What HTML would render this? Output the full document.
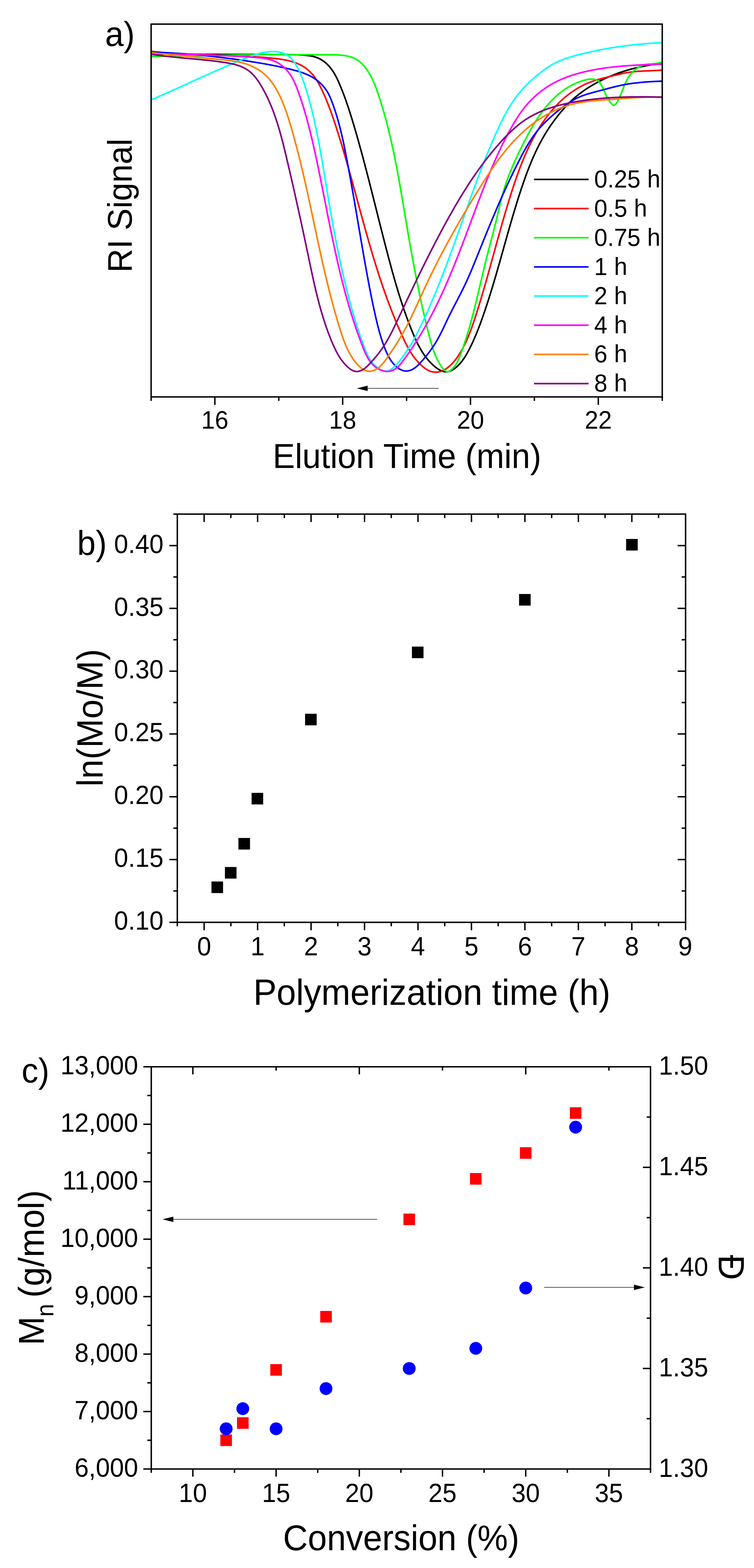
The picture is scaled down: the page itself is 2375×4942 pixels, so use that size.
<!DOCTYPE html><html><head><meta charset="utf-8"><title>Figure</title><style>html,body{margin:0;padding:0;background:#fff;}svg{display:block;}text{font-family:'Liberation Sans', Arial, Helvetica, sans-serif;fill:#000;}</style></head><body>
<svg width="2375" height="4942" viewBox="0 0 2375 4942">
<rect x="0" y="0" width="2375" height="4942" fill="#fff"/>
<g id="pa">
<clipPath id="ca"><rect x="476" y="76" width="1610" height="1175"/></clipPath>
<g clip-path="url(#ca)" fill="none" stroke-linejoin="round" stroke-linecap="round">
<path d="M476.0,170.0L479.0,170.0 482.0,170.1 485.0,170.1 488.0,170.1 491.0,170.2 494.0,170.2 497.0,170.2 500.0,170.3 503.0,170.3 506.0,170.3 509.0,170.4 512.1,170.4 515.1,170.4 518.1,170.4 521.1,170.5 524.1,170.5 527.1,170.5 530.1,170.5 533.1,170.6 536.1,170.6 539.1,170.6 542.1,170.6 545.1,170.7 548.1,170.7 551.1,170.7 554.1,170.7 557.1,170.7 560.1,170.8 563.1,170.8 566.1,170.8 569.1,170.8 572.1,170.8 575.1,170.9 578.1,170.9 581.1,170.9 584.1,170.9 587.1,170.9 590.1,171.0 593.1,171.0 596.2,171.0 599.2,171.0 602.2,171.0 605.2,171.0 608.2,171.0 611.2,171.1 614.2,171.1 617.2,171.1 620.2,171.1 623.2,171.1 626.2,171.1 629.2,171.1 632.2,171.1 635.2,171.2 638.2,171.2 641.2,171.2 644.2,171.2 647.2,171.2 650.2,171.2 653.2,171.2 656.2,171.2 659.2,171.2 662.2,171.3 665.2,171.3 668.2,171.3 671.2,171.3 674.2,171.3 677.2,171.3 680.2,171.3 683.3,171.3 686.3,171.3 689.3,171.3 692.3,171.3 695.3,171.4 698.3,171.4 701.3,171.4 704.3,171.4 707.3,171.4 710.3,171.4 713.3,171.4 716.3,171.4 719.3,171.4 722.3,171.4 725.3,171.4 728.3,171.4 731.3,171.4 734.3,171.5 737.3,171.5 740.3,171.5 743.3,171.5 746.3,171.5 749.4,171.5 752.4,171.5 755.4,171.5 758.4,171.5 761.4,171.5 764.4,171.5 767.4,171.5 770.4,171.5 773.4,171.6 776.4,171.6 779.4,171.6 782.4,171.6 785.4,171.6 788.4,171.6 791.4,171.6 794.4,171.6 797.4,171.6 800.5,171.6 803.5,171.6 806.5,171.7 809.5,171.7 812.5,171.7 815.5,171.7 818.5,171.7 821.5,171.7 824.5,171.7 827.5,171.7 830.5,171.7 833.5,171.7 836.5,171.8 839.5,171.8 842.5,171.8 845.5,171.8 848.5,171.8 851.5,171.8 854.5,171.8 857.5,171.9 860.5,171.9 863.5,171.9 866.5,171.9 869.5,171.9 872.5,171.9 875.5,171.9 878.5,172.0 881.5,172.0 884.5,172.0 887.5,172.0 890.5,172.0 893.5,172.0 896.5,172.1 899.5,172.1 902.5,172.1 905.5,172.1 908.5,172.1 911.5,172.2 914.5,172.2 917.5,172.2 920.5,172.3 923.5,172.3 926.5,172.4 929.5,172.5 932.5,172.5 935.5,172.6 938.5,172.7 941.5,172.9 944.5,173.0 947.5,173.2 950.5,173.3 953.5,173.5 956.5,173.8 959.5,174.0 962.6,174.2 965.6,174.5 968.6,174.9 971.6,175.2 974.6,175.6 977.6,176.1 980.6,176.6 983.5,177.2 986.4,177.9 989.4,178.6 992.2,179.4 995.1,180.3 997.9,181.3 1000.7,182.4 1003.4,183.6 1006.1,184.9 1008.8,186.3 1011.4,187.8 1014.0,189.4 1016.5,191.1 1019.0,192.8 1021.4,194.6 1023.8,196.5 1026.1,198.4 1028.3,200.4 1030.5,202.4 1032.6,204.5 1034.6,206.7 1036.6,208.9 1038.6,211.1 1040.5,213.4 1042.3,215.7 1044.1,218.1 1045.8,220.5 1047.5,222.9 1049.2,225.4 1050.8,227.9 1052.3,230.5 1053.9,233.0 1055.3,235.6 1056.8,238.3 1058.2,240.9 1059.6,243.6 1060.9,246.3 1062.3,249.0 1063.6,251.7 1064.8,254.5 1066.1,257.2 1067.3,260.0 1068.5,262.8 1069.7,265.6 1070.9,268.4 1072.1,271.2 1073.2,274.0 1074.4,276.8 1075.5,279.6 1076.6,282.4 1077.8,285.2 1078.9,288.0 1080.0,290.8 1081.0,293.6 1082.1,296.5 1083.2,299.3 1084.2,302.1 1085.3,304.9 1086.3,307.8 1087.3,310.6 1088.4,313.4 1089.4,316.3 1090.4,319.1 1091.4,321.9 1092.3,324.8 1093.3,327.6 1094.3,330.5 1095.3,333.3 1096.2,336.1 1097.2,339.0 1098.1,341.8 1099.0,344.7 1100.0,347.6 1100.9,350.4 1101.8,353.3 1102.7,356.1 1103.6,359.0 1104.5,361.8 1105.4,364.7 1106.3,367.6 1107.2,370.4 1108.1,373.3 1109.0,376.2 1109.8,379.0 1110.7,381.9 1111.6,384.8 1112.4,387.6 1113.3,390.5 1114.2,393.4 1115.0,396.3 1115.9,399.1 1116.7,402.0 1117.5,404.9 1118.4,407.8 1119.2,410.6 1120.1,413.5 1120.9,416.4 1121.7,419.3 1122.6,422.2 1123.4,425.1 1124.2,427.9 1125.0,430.8 1125.9,433.7 1126.7,436.6 1127.5,439.5 1128.3,442.4 1129.1,445.2 1129.9,448.1 1130.7,451.0 1131.5,453.9 1132.3,456.8 1133.1,459.7 1133.9,462.6 1134.7,465.5 1135.5,468.4 1136.3,471.3 1137.1,474.2 1137.9,477.0 1138.7,479.9 1139.5,482.8 1140.3,485.7 1141.0,488.6 1141.8,491.5 1142.6,494.4 1143.4,497.3 1144.2,500.2 1144.9,503.1 1145.7,506.0 1146.5,508.9 1147.2,511.8 1148.0,514.7 1148.8,517.6 1149.5,520.5 1150.3,523.4 1151.1,526.3 1151.8,529.2 1152.6,532.1 1153.4,535.0 1154.1,538.0 1154.9,540.9 1155.6,543.8 1156.4,546.7 1157.1,549.6 1157.9,552.5 1158.6,555.4 1159.4,558.3 1160.1,561.2 1160.9,564.1 1161.6,567.0 1162.4,569.9 1163.1,572.8 1163.9,575.7 1164.6,578.7 1165.3,581.6 1166.1,584.5 1166.8,587.4 1167.6,590.3 1168.3,593.2 1169.0,596.1 1169.8,599.0 1170.5,601.9 1171.3,604.9 1172.0,607.8 1172.7,610.7 1173.5,613.6 1174.2,616.5 1174.9,619.4 1175.7,622.3 1176.4,625.3 1177.1,628.2 1177.9,631.1 1178.6,634.0 1179.3,636.9 1180.1,639.8 1180.8,642.7 1181.5,645.7 1182.3,648.6 1183.0,651.5 1183.7,654.4 1184.5,657.3 1185.2,660.2 1185.9,663.1 1186.7,666.1 1187.4,669.0 1188.1,671.9 1188.8,674.8 1189.6,677.7 1190.3,680.6 1191.0,683.6 1191.8,686.5 1192.5,689.4 1193.2,692.3 1194.0,695.2 1194.7,698.1 1195.4,701.0 1196.2,704.0 1196.9,706.9 1197.6,709.8 1198.4,712.7 1199.1,715.6 1199.8,718.5 1200.6,721.4 1201.3,724.4 1202.1,727.3 1202.8,730.2 1203.5,733.1 1204.3,736.0 1205.0,738.9 1205.8,741.8 1206.5,744.8 1207.2,747.7 1208.0,750.6 1208.7,753.5 1209.5,756.4 1210.2,759.3 1211.0,762.2 1211.7,765.2 1212.5,768.1 1213.2,771.0 1214.0,773.9 1214.7,776.8 1215.5,779.7 1216.2,782.6 1217.0,785.5 1217.8,788.4 1218.5,791.4 1219.3,794.3 1220.0,797.2 1220.8,800.1 1221.6,803.0 1222.3,805.9 1223.1,808.8 1223.9,811.7 1224.6,814.6 1225.4,817.5 1226.2,820.4 1227.0,823.3 1227.7,826.2 1228.5,829.1 1229.3,832.0 1230.1,835.0 1230.9,837.9 1231.6,840.8 1232.4,843.7 1233.2,846.6 1234.0,849.5 1234.8,852.4 1235.6,855.3 1236.4,858.1 1237.2,861.0 1238.0,863.9 1238.9,866.8 1239.7,869.7 1240.5,872.6 1241.3,875.5 1242.1,878.4 1243.0,881.3 1243.8,884.2 1244.6,887.1 1245.5,889.9 1246.3,892.8 1247.1,895.7 1248.0,898.6 1248.8,901.5 1249.7,904.4 1250.6,907.2 1251.4,910.1 1252.3,913.0 1253.2,915.9 1254.0,918.7 1254.9,921.6 1255.8,924.5 1256.7,927.3 1257.6,930.2 1258.5,933.1 1259.4,935.9 1260.3,938.8 1261.2,941.7 1262.1,944.5 1263.0,947.4 1264.0,950.2 1264.9,953.1 1265.8,955.9 1266.8,958.8 1267.7,961.6 1268.7,964.5 1269.6,967.3 1270.6,970.1 1271.6,973.0 1272.5,975.8 1273.5,978.7 1274.5,981.5 1275.5,984.3 1276.5,987.2 1277.5,990.0 1278.5,992.8 1279.5,995.6 1280.5,998.4 1281.6,1001.3 1282.6,1004.1 1283.6,1006.9 1284.7,1009.7 1285.7,1012.5 1286.8,1015.3 1287.9,1018.1 1288.9,1020.9 1290.0,1023.7 1291.1,1026.5 1292.2,1029.3 1293.3,1032.1 1294.4,1034.9 1295.5,1037.7 1296.6,1040.5 1297.8,1043.2 1298.9,1046.0 1300.1,1048.8 1301.2,1051.6 1302.4,1054.3 1303.5,1057.1 1304.7,1059.9 1305.9,1062.6 1307.1,1065.4 1308.4,1068.1 1309.6,1070.8 1310.9,1073.5 1312.1,1076.3 1313.4,1079.0 1314.8,1081.6 1316.1,1084.3 1317.4,1087.0 1318.8,1089.7 1320.2,1092.3 1321.7,1094.9 1323.1,1097.5 1324.6,1100.1 1326.1,1102.7 1327.6,1105.3 1329.2,1107.9 1330.8,1110.4 1332.4,1112.9 1334.1,1115.4 1335.8,1117.9 1337.5,1120.3 1339.3,1122.8 1341.1,1125.2 1342.9,1127.6 1344.8,1130.0 1346.7,1132.3 1348.7,1134.7 1350.7,1137.0 1352.7,1139.3 1354.8,1141.5 1357.0,1143.7 1359.2,1145.9 1361.4,1148.1 1363.7,1150.3 1366.0,1152.4 1368.3,1154.4 1370.8,1156.5 1373.2,1158.4 1375.7,1160.3 1378.2,1162.0 1380.8,1163.7 1383.3,1165.2 1385.9,1166.7 1388.6,1167.9 1391.2,1169.1 1393.9,1170.0 1396.5,1170.8 1399.2,1171.4 1401.9,1171.8 1404.6,1171.9 1407.3,1171.9 1410.0,1171.6 1412.7,1171.0 1415.4,1170.3 1418.1,1169.4 1420.8,1168.2 1423.4,1166.9 1426.0,1165.5 1428.6,1163.9 1431.1,1162.1 1433.6,1160.3 1436.0,1158.4 1438.4,1156.3 1440.7,1154.2 1443.0,1152.0 1445.2,1149.8 1447.3,1147.6 1449.4,1145.3 1451.4,1143.0 1453.3,1140.6 1455.2,1138.2 1457.1,1135.8 1458.9,1133.3 1460.6,1130.8 1462.3,1128.3 1463.9,1125.8 1465.6,1123.2 1467.1,1120.7 1468.7,1118.1 1470.2,1115.4 1471.7,1112.8 1473.1,1110.2 1474.6,1107.5 1476.0,1104.9 1477.4,1102.2 1478.8,1099.5 1480.1,1096.8 1481.5,1094.1 1482.8,1091.4 1484.1,1088.7 1485.4,1086.0 1486.7,1083.3 1488.0,1080.6 1489.2,1077.8 1490.5,1075.1 1491.7,1072.4 1492.9,1069.6 1494.1,1066.9 1495.3,1064.1 1496.5,1061.4 1497.7,1058.6 1498.9,1055.8 1500.0,1053.1 1501.1,1050.3 1502.3,1047.5 1503.4,1044.7 1504.5,1041.9 1505.6,1039.1 1506.7,1036.3 1507.8,1033.6 1508.8,1030.7 1509.9,1027.9 1511.0,1025.1 1512.0,1022.3 1513.1,1019.5 1514.1,1016.7 1515.1,1013.9 1516.1,1011.1 1517.2,1008.2 1518.2,1005.4 1519.2,1002.6 1520.2,999.8 1521.2,996.9 1522.1,994.1 1523.1,991.3 1524.1,988.4 1525.1,985.6 1526.1,982.7 1527.0,979.9 1528.0,977.1 1528.9,974.2 1529.9,971.4 1530.8,968.5 1531.8,965.7 1532.7,962.8 1533.7,960.0 1534.6,957.1 1535.5,954.3 1536.4,951.4 1537.4,948.6 1538.3,945.7 1539.2,942.9 1540.1,940.0 1541.0,937.2 1541.9,934.3 1542.8,931.4 1543.7,928.6 1544.6,925.7 1545.5,922.8 1546.4,920.0 1547.3,917.1 1548.1,914.3 1549.0,911.4 1549.9,908.5 1550.8,905.6 1551.6,902.8 1552.5,899.9 1553.4,897.0 1554.2,894.2 1555.1,891.3 1555.9,888.4 1556.8,885.5 1557.6,882.6 1558.5,879.8 1559.3,876.9 1560.2,874.0 1561.0,871.1 1561.9,868.3 1562.7,865.4 1563.5,862.5 1564.4,859.6 1565.2,856.7 1566.0,853.8 1566.9,851.0 1567.7,848.1 1568.5,845.2 1569.4,842.3 1570.2,839.4 1571.0,836.5 1571.8,833.6 1572.7,830.7 1573.5,827.9 1574.3,825.0 1575.1,822.1 1575.9,819.2 1576.7,816.3 1577.6,813.4 1578.4,810.5 1579.2,807.6 1580.0,804.7 1580.8,801.8 1581.6,799.0 1582.4,796.1 1583.3,793.2 1584.1,790.3 1584.9,787.4 1585.7,784.5 1586.5,781.6 1587.3,778.7 1588.1,775.8 1588.9,772.9 1589.8,770.0 1590.6,767.1 1591.4,764.2 1592.2,761.3 1593.0,758.5 1593.8,755.6 1594.6,752.7 1595.5,749.8 1596.3,746.9 1597.1,744.0 1597.9,741.1 1598.7,738.2 1599.6,735.3 1600.4,732.4 1601.2,729.5 1602.0,726.6 1602.8,723.8 1603.7,720.9 1604.5,718.0 1605.3,715.1 1606.2,712.2 1607.0,709.3 1607.8,706.4 1608.7,703.5 1609.5,700.6 1610.3,697.7 1611.2,694.9 1612.0,692.0 1612.9,689.1 1613.7,686.2 1614.6,683.3 1615.4,680.4 1616.3,677.5 1617.1,674.7 1618.0,671.8 1618.9,668.9 1619.7,666.0 1620.6,663.1 1621.5,660.3 1622.3,657.4 1623.2,654.5 1624.1,651.6 1625.0,648.7 1625.8,645.9 1626.7,643.0 1627.6,640.1 1628.5,637.2 1629.4,634.4 1630.3,631.5 1631.2,628.6 1632.1,625.8 1633.0,622.9 1633.9,620.0 1634.9,617.2 1635.8,614.3 1636.7,611.4 1637.6,608.6 1638.6,605.7 1639.5,602.8 1640.4,600.0 1641.4,597.1 1642.3,594.3 1643.3,591.4 1644.3,588.5 1645.2,585.7 1646.2,582.8 1647.2,580.0 1648.1,577.1 1649.1,574.3 1650.1,571.4 1651.1,568.6 1652.1,565.8 1653.1,562.9 1654.1,560.1 1655.1,557.3 1656.2,554.4 1657.2,551.6 1658.2,548.8 1659.3,546.0 1660.3,543.1 1661.4,540.3 1662.5,537.5 1663.6,534.7 1664.6,531.9 1665.7,529.1 1666.8,526.3 1667.9,523.5 1669.1,520.7 1670.2,517.9 1671.3,515.1 1672.5,512.4 1673.6,509.6 1674.8,506.8 1676.0,504.1 1677.1,501.3 1678.3,498.6 1679.5,495.8 1680.7,493.1 1682.0,490.3 1683.2,487.6 1684.4,484.9 1685.7,482.1 1686.9,479.4 1688.2,476.7 1689.5,474.0 1690.8,471.3 1692.1,468.6 1693.4,465.9 1694.8,463.2 1696.1,460.6 1697.5,457.9 1698.8,455.2 1700.2,452.6 1701.6,449.9 1703.0,447.3 1704.4,444.7 1705.9,442.0 1707.3,439.4 1708.8,436.8 1710.3,434.2 1711.7,431.6 1713.2,429.0 1714.8,426.4 1716.3,423.8 1717.8,421.3 1719.4,418.7 1721.0,416.2 1722.6,413.6 1724.2,411.1 1725.8,408.5 1727.4,406.0 1729.1,403.5 1730.7,401.0 1732.4,398.5 1734.1,396.0 1735.8,393.6 1737.5,391.1 1739.3,388.6 1741.0,386.2 1742.8,383.8 1744.5,381.3 1746.3,378.9 1748.1,376.5 1749.9,374.1 1751.8,371.7 1753.6,369.3 1755.4,367.0 1757.3,364.6 1759.2,362.2 1761.1,359.9 1763.0,357.6 1764.9,355.3 1766.8,352.9 1768.7,350.6 1770.6,348.4 1772.6,346.1 1774.6,343.8 1776.5,341.6 1778.5,339.3 1780.6,337.1 1782.6,334.9 1784.6,332.7 1786.7,330.6 1788.8,328.4 1790.8,326.3 1793.0,324.1 1795.1,322.0 1797.2,320.0 1799.4,317.9 1801.6,315.8 1803.8,313.8 1806.0,311.8 1808.3,309.8 1810.5,307.9 1812.8,305.9 1815.1,304.0 1817.4,302.1 1819.7,300.2 1822.1,298.3 1824.5,296.4 1826.9,294.6 1829.3,292.8 1831.7,291.0 1834.1,289.2 1836.5,287.5 1839.0,285.7 1841.5,284.0 1844.0,282.3 1846.5,280.6 1849.0,279.0 1851.5,277.3 1854.1,275.7 1856.6,274.1 1859.2,272.5 1861.8,271.0 1864.4,269.4 1866.9,267.9 1869.6,266.4 1872.2,264.9 1874.8,263.4 1877.4,261.9 1880.1,260.5 1882.7,259.1 1885.4,257.7 1888.1,256.3 1890.7,254.9 1893.4,253.6 1896.1,252.2 1898.8,250.9 1901.5,249.6 1904.2,248.3 1907.0,247.1 1909.7,245.8 1912.4,244.6 1915.2,243.4 1917.9,242.2 1920.7,241.0 1923.4,239.9 1926.2,238.7 1929.0,237.6 1931.8,236.5 1934.6,235.4 1937.3,234.3 1940.1,233.3 1943.0,232.2 1945.8,231.2 1948.6,230.2 1951.4,229.2 1954.2,228.2 1957.1,227.3 1959.9,226.3 1962.8,225.4 1965.6,224.5 1968.5,223.6 1971.3,222.7 1974.2,221.8 1977.1,221.0 1979.9,220.1 1982.8,219.3 1985.7,218.5 1988.6,217.7 1991.5,216.9 1994.4,216.2 1997.3,215.4 2000.2,214.7 2003.1,214.0 2006.0,213.3 2009.0,212.6 2011.9,211.9 2014.8,211.2 2017.8,210.6 2020.7,210.0 2023.6,209.3 2026.6,208.7 2029.5,208.1 2032.5,207.6 2035.4,207.0 2038.4,206.5 2041.4,205.9 2044.3,205.4 2047.3,204.9 2050.3,204.4 2053.2,203.9 2056.2,203.4 2059.2,203.0 2062.2,202.6 2065.2,202.1 2068.1,201.7 2071.1,201.3 2074.1,200.9 2077.1,200.5 2080.1,200.2 2083.1,199.8 2086.0,199.2" stroke="#000000" stroke-width="5"/>
<path d="M476.0,162.0L479.0,162.3 482.0,162.6 485.0,162.9 488.0,163.3 491.1,163.6 494.1,163.8 497.1,164.1 500.2,164.4 503.2,164.7 506.2,165.0 509.2,165.2 512.2,165.5 515.2,165.7 518.3,166.0 521.3,166.2 524.3,166.4 527.3,166.6 530.3,166.9 533.3,167.1 536.3,167.3 539.3,167.5 542.3,167.7 545.3,167.9 548.3,168.1 551.3,168.3 554.3,168.4 557.3,168.6 560.3,168.8 563.3,168.9 566.3,169.1 569.3,169.3 572.3,169.4 575.3,169.6 578.3,169.7 581.3,169.9 584.3,170.0 587.3,170.1 590.3,170.3 593.3,170.4 596.3,170.5 599.2,170.6 602.2,170.8 605.2,170.9 608.2,171.0 611.2,171.1 614.2,171.2 617.2,171.3 620.2,171.4 623.1,171.6 626.1,171.7 629.1,171.8 632.1,171.9 635.1,172.0 638.1,172.1 641.0,172.2 644.0,172.3 647.0,172.3 650.0,172.4 653.0,172.5 655.9,172.6 658.9,172.7 661.9,172.8 664.9,172.9 667.9,173.0 670.9,173.1 673.8,173.2 676.8,173.3 679.8,173.4 682.8,173.4 685.8,173.5 688.7,173.6 691.7,173.7 694.7,173.8 697.7,173.9 700.7,174.0 703.7,174.1 706.6,174.2 709.6,174.3 712.6,174.4 715.6,174.5 718.6,174.6 721.6,174.7 724.6,174.8 727.6,174.9 730.5,175.1 733.5,175.2 736.5,175.3 739.5,175.4 742.5,175.5 745.5,175.7 748.5,175.8 751.5,175.9 754.5,176.1 757.5,176.2 760.5,176.3 763.5,176.5 766.5,176.6 769.5,176.8 772.5,176.9 775.5,177.1 778.5,177.3 781.5,177.4 784.5,177.6 787.5,177.8 790.5,178.0 793.5,178.2 796.5,178.3 799.5,178.5 802.5,178.7 805.5,179.0 808.5,179.2 811.5,179.4 814.6,179.6 817.6,179.8 820.6,180.1 823.6,180.3 826.6,180.6 829.7,180.8 832.7,181.1 835.7,181.3 838.7,181.6 841.8,181.9 844.8,182.2 847.8,182.4 850.9,182.7 853.9,183.0 856.9,183.4 860.0,183.7 863.0,184.0 866.1,184.3 869.1,184.7 872.1,185.1 875.2,185.4 878.2,185.8 881.2,186.2 884.2,186.7 887.2,187.1 890.2,187.6 893.2,188.1 896.2,188.7 899.2,189.2 902.1,189.8 905.1,190.4 908.0,191.1 910.9,191.8 913.8,192.5 916.7,193.3 919.6,194.1 922.4,195.0 925.2,195.9 928.0,196.8 930.8,197.8 933.5,198.9 936.3,200.0 939.0,201.1 941.6,202.3 944.3,203.6 946.9,204.9 949.5,206.2 952.0,207.7 954.6,209.2 957.1,210.7 959.5,212.4 961.9,214.1 964.3,215.8 966.7,217.6 969.0,219.5 971.3,221.5 973.5,223.5 975.7,225.6 977.8,227.7 979.9,229.9 982.0,232.1 984.0,234.4 985.9,236.7 987.9,239.1 989.7,241.5 991.5,243.9 993.3,246.4 995.0,248.9 996.7,251.4 998.3,253.9 999.9,256.5 1001.4,259.1 1002.9,261.7 1004.4,264.3 1005.8,267.0 1007.2,269.6 1008.6,272.3 1009.9,275.0 1011.3,277.7 1012.6,280.4 1013.9,283.1 1015.2,285.9 1016.4,288.6 1017.7,291.3 1018.9,294.0 1020.2,296.8 1021.4,299.5 1022.6,302.3 1023.8,305.0 1025.0,307.8 1026.1,310.6 1027.3,313.3 1028.4,316.1 1029.6,318.9 1030.7,321.7 1031.8,324.5 1032.9,327.3 1034.0,330.0 1035.1,332.8 1036.2,335.6 1037.2,338.5 1038.3,341.3 1039.3,344.1 1040.4,346.9 1041.4,349.7 1042.4,352.5 1043.4,355.4 1044.5,358.2 1045.5,361.0 1046.4,363.8 1047.4,366.7 1048.4,369.5 1049.4,372.4 1050.4,375.2 1051.3,378.0 1052.3,380.9 1053.2,383.7 1054.2,386.6 1055.1,389.4 1056.1,392.3 1057.0,395.1 1057.9,398.0 1058.9,400.9 1059.8,403.7 1060.7,406.6 1061.6,409.4 1062.5,412.3 1063.4,415.1 1064.3,418.0 1065.3,420.9 1066.2,423.7 1067.0,426.6 1067.9,429.5 1068.8,432.3 1069.7,435.2 1070.6,438.1 1071.5,440.9 1072.4,443.8 1073.3,446.7 1074.1,449.6 1075.0,452.4 1075.9,455.3 1076.7,458.2 1077.6,461.1 1078.5,463.9 1079.3,466.8 1080.2,469.7 1081.0,472.6 1081.9,475.5 1082.7,478.3 1083.6,481.2 1084.4,484.1 1085.3,487.0 1086.1,489.9 1087.0,492.8 1087.8,495.6 1088.6,498.5 1089.5,501.4 1090.3,504.3 1091.1,507.2 1092.0,510.1 1092.8,513.0 1093.6,515.9 1094.4,518.7 1095.3,521.6 1096.1,524.5 1096.9,527.4 1097.7,530.3 1098.5,533.2 1099.3,536.1 1100.2,539.0 1101.0,541.9 1101.8,544.8 1102.6,547.7 1103.4,550.6 1104.2,553.5 1105.0,556.4 1105.8,559.2 1106.6,562.1 1107.4,565.0 1108.2,567.9 1109.0,570.8 1109.8,573.7 1110.6,576.6 1111.4,579.5 1112.2,582.4 1113.0,585.3 1113.8,588.2 1114.6,591.1 1115.4,594.0 1116.2,596.9 1117.0,599.8 1117.8,602.7 1118.5,605.6 1119.3,608.5 1120.1,611.4 1120.9,614.3 1121.7,617.2 1122.5,620.1 1123.3,623.0 1124.1,625.9 1124.9,628.8 1125.6,631.7 1126.4,634.6 1127.2,637.5 1128.0,640.4 1128.8,643.3 1129.6,646.2 1130.4,649.1 1131.2,652.0 1132.0,654.9 1132.8,657.8 1133.5,660.7 1134.3,663.6 1135.1,666.5 1135.9,669.4 1136.7,672.3 1137.5,675.2 1138.3,678.1 1139.1,681.0 1139.9,683.9 1140.7,686.8 1141.5,689.7 1142.3,692.6 1143.1,695.5 1143.9,698.4 1144.7,701.3 1145.5,704.2 1146.3,707.1 1147.1,710.0 1147.9,712.9 1148.7,715.8 1149.5,718.7 1150.3,721.6 1151.1,724.5 1151.9,727.4 1152.7,730.3 1153.5,733.1 1154.4,736.0 1155.2,738.9 1156.0,741.8 1156.8,744.7 1157.6,747.6 1158.5,750.5 1159.3,753.4 1160.1,756.3 1160.9,759.2 1161.8,762.0 1162.6,764.9 1163.4,767.8 1164.3,770.7 1165.1,773.6 1165.9,776.5 1166.8,779.4 1167.6,782.2 1168.5,785.1 1169.3,788.0 1170.2,790.9 1171.0,793.8 1171.9,796.6 1172.7,799.5 1173.6,802.4 1174.4,805.3 1175.3,808.1 1176.2,811.0 1177.0,813.9 1177.9,816.8 1178.8,819.6 1179.7,822.5 1180.5,825.4 1181.4,828.2 1182.3,831.1 1183.2,834.0 1184.1,836.8 1185.0,839.7 1185.9,842.6 1186.8,845.4 1187.7,848.3 1188.6,851.2 1189.5,854.0 1190.4,856.9 1191.3,859.7 1192.2,862.6 1193.2,865.5 1194.1,868.3 1195.0,871.2 1195.9,874.0 1196.9,876.9 1197.8,879.7 1198.8,882.6 1199.7,885.4 1200.7,888.3 1201.6,891.1 1202.6,894.0 1203.5,896.8 1204.5,899.6 1205.5,902.5 1206.4,905.3 1207.4,908.2 1208.4,911.0 1209.4,913.8 1210.4,916.7 1211.4,919.5 1212.4,922.3 1213.4,925.2 1214.4,928.0 1215.4,930.8 1216.4,933.6 1217.4,936.5 1218.4,939.3 1219.4,942.1 1220.5,944.9 1221.5,947.7 1222.6,950.6 1223.6,953.4 1224.6,956.2 1225.7,959.0 1226.8,961.8 1227.8,964.6 1228.9,967.4 1230.0,970.2 1231.0,973.0 1232.1,975.8 1233.2,978.6 1234.3,981.4 1235.4,984.2 1236.5,987.0 1237.6,989.8 1238.7,992.6 1239.9,995.4 1241.0,998.2 1242.1,1001.0 1243.2,1003.8 1244.4,1006.6 1245.5,1009.3 1246.7,1012.1 1247.8,1014.9 1249.0,1017.7 1250.2,1020.5 1251.3,1023.2 1252.5,1026.0 1253.7,1028.8 1254.9,1031.5 1256.1,1034.3 1257.3,1037.1 1258.5,1039.8 1259.7,1042.6 1260.9,1045.3 1262.2,1048.1 1263.4,1050.8 1264.6,1053.6 1265.9,1056.3 1267.1,1059.1 1268.4,1061.8 1269.7,1064.6 1270.9,1067.3 1272.2,1070.0 1273.5,1072.8 1274.8,1075.5 1276.1,1078.2 1277.5,1080.9 1278.8,1083.6 1280.2,1086.3 1281.6,1089.0 1283.0,1091.6 1284.4,1094.3 1285.8,1096.9 1287.3,1099.5 1288.8,1102.1 1290.3,1104.7 1291.8,1107.3 1293.4,1109.8 1295.0,1112.3 1296.6,1114.8 1298.2,1117.3 1299.9,1119.8 1301.6,1122.2 1303.3,1124.6 1305.1,1127.0 1306.9,1129.4 1308.7,1131.7 1310.6,1134.0 1312.5,1136.3 1314.5,1138.6 1316.5,1140.8 1318.5,1143.0 1320.6,1145.1 1322.7,1147.2 1324.9,1149.3 1327.1,1151.4 1329.3,1153.4 1331.6,1155.4 1334.0,1157.3 1336.4,1159.2 1338.8,1161.0 1341.3,1162.8 1343.9,1164.4 1346.5,1165.9 1349.2,1167.4 1351.9,1168.6 1354.7,1169.8 1357.6,1170.8 1360.5,1171.6 1363.5,1172.2 1366.5,1172.7 1369.6,1173.0 1372.6,1173.1 1375.7,1173.0 1378.7,1172.7 1381.6,1172.3 1384.5,1171.7 1387.4,1170.9 1390.2,1170.0 1392.9,1168.9 1395.6,1167.7 1398.3,1166.4 1400.9,1165.0 1403.4,1163.4 1405.9,1161.8 1408.4,1160.1 1410.8,1158.3 1413.1,1156.4 1415.4,1154.4 1417.7,1152.5 1419.9,1150.4 1422.0,1148.3 1424.1,1146.1 1426.2,1143.9 1428.2,1141.6 1430.1,1139.3 1432.1,1137.0 1434.0,1134.6 1435.8,1132.2 1437.6,1129.7 1439.4,1127.3 1441.1,1124.8 1442.8,1122.3 1444.5,1119.7 1446.2,1117.2 1447.8,1114.6 1449.4,1112.0 1450.9,1109.5 1452.5,1106.9 1454.0,1104.3 1455.5,1101.6 1456.9,1099.0 1458.4,1096.4 1459.8,1093.7 1461.1,1091.0 1462.5,1088.4 1463.8,1085.7 1465.2,1083.0 1466.5,1080.3 1467.7,1077.6 1469.0,1074.8 1470.2,1072.1 1471.4,1069.4 1472.6,1066.6 1473.8,1063.9 1474.9,1061.1 1476.1,1058.3 1477.2,1055.6 1478.3,1052.8 1479.4,1050.0 1480.5,1047.2 1481.6,1044.4 1482.6,1041.6 1483.7,1038.8 1484.7,1035.9 1485.7,1033.1 1486.7,1030.3 1487.7,1027.5 1488.7,1024.6 1489.7,1021.8 1490.6,1018.9 1491.6,1016.1 1492.6,1013.2 1493.5,1010.4 1494.4,1007.5 1495.4,1004.7 1496.3,1001.8 1497.2,999.0 1498.2,996.1 1499.1,993.3 1500.0,990.4 1500.9,987.5 1501.8,984.7 1502.7,981.8 1503.6,978.9 1504.5,976.1 1505.4,973.2 1506.3,970.4 1507.2,967.5 1508.1,964.6 1509.0,961.7 1509.8,958.9 1510.7,956.0 1511.6,953.1 1512.5,950.3 1513.3,947.4 1514.2,944.5 1515.1,941.6 1515.9,938.8 1516.8,935.9 1517.6,933.0 1518.5,930.1 1519.3,927.3 1520.2,924.4 1521.0,921.5 1521.9,918.6 1522.7,915.7 1523.5,912.8 1524.4,910.0 1525.2,907.1 1526.0,904.2 1526.9,901.3 1527.7,898.4 1528.5,895.5 1529.3,892.7 1530.2,889.8 1531.0,886.9 1531.8,884.0 1532.6,881.1 1533.4,878.2 1534.3,875.3 1535.1,872.4 1535.9,869.6 1536.7,866.7 1537.5,863.8 1538.3,860.9 1539.1,858.0 1539.9,855.1 1540.7,852.2 1541.5,849.3 1542.3,846.4 1543.1,843.5 1543.9,840.6 1544.7,837.8 1545.5,834.9 1546.3,832.0 1547.1,829.1 1547.9,826.2 1548.7,823.3 1549.5,820.4 1550.3,817.5 1551.1,814.6 1551.9,811.7 1552.7,808.8 1553.5,805.9 1554.3,803.0 1555.1,800.1 1555.9,797.2 1556.7,794.3 1557.5,791.4 1558.3,788.5 1559.1,785.7 1559.9,782.8 1560.6,779.9 1561.4,777.0 1562.2,774.1 1563.0,771.2 1563.8,768.3 1564.6,765.4 1565.4,762.5 1566.2,759.6 1567.0,756.7 1567.8,753.8 1568.6,750.9 1569.4,748.0 1570.2,745.1 1571.0,742.2 1571.8,739.3 1572.7,736.4 1573.5,733.6 1574.3,730.7 1575.1,727.8 1575.9,724.9 1576.7,722.0 1577.5,719.1 1578.3,716.2 1579.2,713.3 1580.0,710.4 1580.8,707.5 1581.6,704.6 1582.4,701.8 1583.3,698.9 1584.1,696.0 1584.9,693.1 1585.8,690.2 1586.6,687.3 1587.4,684.4 1588.3,681.5 1589.1,678.7 1590.0,675.8 1590.8,672.9 1591.6,670.0 1592.5,667.1 1593.3,664.2 1594.2,661.4 1595.1,658.5 1595.9,655.6 1596.8,652.7 1597.6,649.8 1598.5,647.0 1599.4,644.1 1600.3,641.2 1601.1,638.3 1602.0,635.4 1602.9,632.6 1603.8,629.7 1604.7,626.8 1605.6,623.9 1606.5,621.1 1607.4,618.2 1608.3,615.3 1609.2,612.5 1610.1,609.6 1611.0,606.7 1611.9,603.9 1612.8,601.0 1613.8,598.1 1614.7,595.3 1615.6,592.4 1616.5,589.5 1617.5,586.7 1618.4,583.8 1619.4,581.0 1620.3,578.1 1621.3,575.2 1622.3,572.4 1623.2,569.5 1624.2,566.7 1625.2,563.8 1626.2,561.0 1627.2,558.2 1628.2,555.3 1629.2,552.5 1630.2,549.6 1631.2,546.8 1632.2,544.0 1633.2,541.2 1634.3,538.3 1635.3,535.5 1636.4,532.7 1637.4,529.9 1638.5,527.1 1639.6,524.2 1640.7,521.4 1641.8,518.6 1642.9,515.8 1644.0,513.0 1645.1,510.3 1646.2,507.5 1647.3,504.7 1648.5,501.9 1649.6,499.1 1650.8,496.4 1652.0,493.6 1653.2,490.8 1654.3,488.1 1655.5,485.3 1656.8,482.6 1658.0,479.8 1659.2,477.1 1660.5,474.4 1661.7,471.6 1663.0,468.9 1664.3,466.2 1665.5,463.5 1666.8,460.8 1668.1,458.1 1669.5,455.4 1670.8,452.7 1672.2,450.0 1673.5,447.3 1674.9,444.7 1676.3,442.0 1677.7,439.3 1679.1,436.7 1680.5,434.0 1681.9,431.4 1683.4,428.8 1684.8,426.1 1686.3,423.5 1687.8,420.9 1689.3,418.3 1690.8,415.7 1692.4,413.1 1693.9,410.5 1695.5,408.0 1697.0,405.4 1698.6,402.8 1700.2,400.3 1701.9,397.7 1703.5,395.2 1705.1,392.7 1706.8,390.2 1708.5,387.7 1710.2,385.2 1711.9,382.7 1713.6,380.2 1715.4,377.8 1717.1,375.3 1718.9,372.9 1720.7,370.4 1722.5,368.0 1724.3,365.6 1726.1,363.2 1728.0,360.9 1729.8,358.5 1731.7,356.2 1733.6,353.8 1735.5,351.5 1737.5,349.2 1739.4,346.9 1741.4,344.6 1743.4,342.4 1745.3,340.2 1747.4,337.9 1749.4,335.7 1751.4,333.5 1753.5,331.4 1755.6,329.2 1757.7,327.1 1759.8,325.0 1761.9,322.9 1764.0,320.8 1766.2,318.7 1768.4,316.7 1770.6,314.7 1772.8,312.7 1775.0,310.7 1777.2,308.7 1779.5,306.8 1781.8,304.9 1784.1,303.0 1786.4,301.1 1788.7,299.3 1791.1,297.5 1793.4,295.7 1795.8,293.9 1798.2,292.1 1800.6,290.4 1803.1,288.7 1805.5,287.0 1808.0,285.4 1810.5,283.8 1813.0,282.2 1815.5,280.6 1818.0,279.0 1820.6,277.5 1823.2,276.0 1825.8,274.5 1828.4,273.1 1831.0,271.7 1833.7,270.3 1836.4,269.0 1839.0,267.6 1841.7,266.3 1844.5,265.1 1847.2,263.8 1850.0,262.6 1852.8,261.5 1855.6,260.3 1858.4,259.2 1861.2,258.1 1864.1,257.1 1867.0,256.1 1869.8,255.1 1872.8,254.1 1875.7,253.2 1878.6,252.3 1881.6,251.4 1884.5,250.5 1887.5,249.7 1890.5,248.9 1893.4,248.1 1896.4,247.3 1899.4,246.5 1902.4,245.8 1905.4,245.0 1908.3,244.3 1911.3,243.6 1914.3,242.8 1917.2,242.1 1920.2,241.4 1923.1,240.7 1926.1,240.0 1929.0,239.3 1931.9,238.6 1934.8,237.8 1937.6,237.1 1940.5,236.4 1943.4,235.7 1946.3,235.1 1949.1,234.4 1952.0,233.7 1954.9,233.1 1957.7,232.4 1960.6,231.8 1963.5,231.2 1966.3,230.6 1969.2,230.1 1972.1,229.5 1975.0,229.0 1977.9,228.5 1980.9,228.1 1983.8,227.6 1986.7,227.2 1989.7,226.8 1992.7,226.5 1995.7,226.2 1998.7,225.8 2001.7,225.6 2004.7,225.3 2007.7,225.0 2010.7,224.8 2013.8,224.6 2016.8,224.4 2019.8,224.2 2022.9,224.0 2025.9,223.9 2029.0,223.7 2032.0,223.6 2035.1,223.4 2038.1,223.3 2041.2,223.2 2044.2,223.0 2047.2,222.9 2050.3,222.8 2053.3,222.7 2056.3,222.6 2059.3,222.4 2062.3,222.3 2065.3,222.2 2068.3,222.0 2071.3,221.9 2074.2,221.8 2077.2,221.6 2080.1,221.4 2083.0,221.2 2086.0,221.1" stroke="#FF0000" stroke-width="5"/>
<path d="M476.0,177.5L479.0,177.8 482.0,177.8 485.0,177.8 488.0,177.8 491.0,177.7 494.0,177.7 497.0,177.7 500.0,177.7 503.0,177.6 506.0,177.6 509.0,177.6 512.0,177.6 515.0,177.5 518.0,177.5 521.0,177.5 524.0,177.4 527.1,177.4 530.1,177.3 533.1,177.3 536.1,177.3 539.1,177.2 542.1,177.2 545.1,177.1 548.1,177.1 551.1,177.1 554.1,177.0 557.1,177.0 560.1,176.9 563.1,176.9 566.1,176.8 569.1,176.8 572.1,176.7 575.1,176.7 578.1,176.6 581.1,176.6 584.1,176.5 587.1,176.5 590.1,176.4 593.1,176.4 596.1,176.3 599.1,176.2 602.1,176.2 605.1,176.1 608.1,176.1 611.1,176.0 614.1,176.0 617.1,175.9 620.1,175.8 623.1,175.8 626.1,175.7 629.1,175.7 632.2,175.6 635.2,175.6 638.2,175.5 641.2,175.4 644.2,175.4 647.2,175.3 650.2,175.3 653.2,175.2 656.2,175.1 659.2,175.1 662.2,175.0 665.2,174.9 668.2,174.9 671.2,174.8 674.2,174.8 677.2,174.7 680.2,174.6 683.2,174.6 686.2,174.5 689.2,174.5 692.2,174.4 695.2,174.3 698.2,174.3 701.2,174.2 704.2,174.2 707.2,174.1 710.2,174.0 713.2,174.0 716.2,173.9 719.2,173.9 722.2,173.8 725.2,173.8 728.2,173.7 731.2,173.6 734.2,173.6 737.3,173.5 740.3,173.5 743.3,173.4 746.3,173.4 749.3,173.3 752.3,173.3 755.3,173.2 758.3,173.2 761.3,173.1 764.3,173.1 767.3,173.0 770.3,173.0 773.3,172.9 776.3,172.9 779.3,172.8 782.3,172.8 785.3,172.7 788.3,172.7 791.3,172.7 794.3,172.6 797.3,172.6 800.3,172.5 803.3,172.5 806.3,172.5 809.3,172.4 812.3,172.4 815.3,172.4 818.3,172.3 821.3,172.3 824.3,172.3 827.3,172.2 830.4,172.2 833.4,172.2 836.4,172.2 839.4,172.1 842.4,172.1 845.4,172.1 848.4,172.1 851.4,172.1 854.4,172.0 857.4,172.0 860.4,172.0 863.4,172.0 866.4,172.0 869.4,172.0 872.4,172.0 875.4,172.0 878.4,172.0 881.4,172.0 884.4,172.0 887.4,172.0 890.4,172.0 893.4,172.0 896.4,172.0 899.4,172.0 902.4,172.0 905.4,172.0 908.5,172.0 911.5,172.0 914.5,172.0 917.5,172.1 920.5,172.1 923.5,172.1 926.5,172.1 929.5,172.1 932.5,172.2 935.5,172.2 938.5,172.2 941.5,172.2 944.5,172.3 947.5,172.3 950.5,172.3 953.5,172.3 956.5,172.4 959.5,172.4 962.5,172.4 965.5,172.4 968.5,172.5 971.5,172.5 974.5,172.5 977.5,172.5 980.5,172.5 983.5,172.6 986.5,172.6 989.6,172.6 992.6,172.6 995.6,172.6 998.6,172.6 1001.6,172.7 1004.6,172.7 1007.6,172.7 1010.6,172.7 1013.6,172.7 1016.6,172.7 1019.6,172.7 1022.6,172.7 1025.6,172.7 1028.6,172.7 1031.6,172.7 1034.6,172.7 1037.6,172.7 1040.6,172.7 1043.6,172.8 1046.6,172.8 1049.6,172.8 1052.6,172.9 1055.6,173.0 1058.6,173.0 1061.6,173.1 1064.6,173.2 1067.6,173.4 1070.6,173.6 1073.6,173.8 1076.6,174.0 1079.6,174.3 1082.6,174.7 1085.6,175.1 1088.6,175.6 1091.6,176.1 1094.5,176.7 1097.5,177.4 1100.4,178.2 1103.3,179.0 1106.1,179.9 1109.0,180.9 1111.8,181.9 1114.5,183.1 1117.2,184.4 1119.9,185.7 1122.5,187.1 1125.0,188.7 1127.5,190.3 1129.9,192.1 1132.3,193.9 1134.6,195.8 1136.8,197.8 1139.0,199.9 1141.2,202.0 1143.2,204.2 1145.3,206.5 1147.3,208.8 1149.2,211.2 1151.1,213.6 1152.9,216.0 1154.7,218.5 1156.4,220.9 1158.1,223.5 1159.7,226.0 1161.3,228.5 1162.9,231.1 1164.4,233.7 1165.9,236.3 1167.4,238.9 1168.8,241.6 1170.2,244.2 1171.5,246.9 1172.8,249.6 1174.1,252.3 1175.4,255.0 1176.6,257.7 1177.8,260.5 1179.0,263.3 1180.1,266.0 1181.2,268.8 1182.3,271.6 1183.4,274.4 1184.5,277.2 1185.5,280.0 1186.6,282.8 1187.6,285.7 1188.6,288.5 1189.6,291.3 1190.5,294.2 1191.5,297.0 1192.5,299.9 1193.4,302.7 1194.3,305.6 1195.3,308.4 1196.2,311.3 1197.1,314.2 1198.0,317.0 1198.9,319.9 1199.8,322.7 1200.7,325.6 1201.6,328.5 1202.5,331.4 1203.4,334.2 1204.2,337.1 1205.1,340.0 1205.9,342.9 1206.8,345.7 1207.6,348.6 1208.5,351.5 1209.3,354.4 1210.1,357.3 1210.9,360.2 1211.7,363.0 1212.5,365.9 1213.3,368.8 1214.1,371.7 1214.9,374.6 1215.7,377.5 1216.5,380.4 1217.2,383.3 1218.0,386.2 1218.8,389.1 1219.5,392.0 1220.3,394.9 1221.0,397.8 1221.7,400.7 1222.5,403.7 1223.2,406.6 1223.9,409.5 1224.6,412.4 1225.3,415.3 1226.1,418.2 1226.8,421.1 1227.4,424.1 1228.1,427.0 1228.8,429.9 1229.5,432.8 1230.2,435.7 1230.9,438.7 1231.5,441.6 1232.2,444.5 1232.9,447.5 1233.5,450.4 1234.2,453.3 1234.8,456.2 1235.5,459.2 1236.1,462.1 1236.7,465.0 1237.4,468.0 1238.0,470.9 1238.6,473.9 1239.2,476.8 1239.9,479.7 1240.5,482.7 1241.1,485.6 1241.7,488.6 1242.3,491.5 1242.9,494.4 1243.5,497.4 1244.1,500.3 1244.7,503.3 1245.2,506.2 1245.8,509.2 1246.4,512.1 1247.0,515.1 1247.6,518.0 1248.1,521.0 1248.7,523.9 1249.3,526.9 1249.8,529.8 1250.4,532.8 1250.9,535.7 1251.5,538.7 1252.0,541.6 1252.6,544.6 1253.1,547.6 1253.7,550.5 1254.2,553.5 1254.8,556.4 1255.3,559.4 1255.8,562.3 1256.4,565.3 1256.9,568.3 1257.4,571.2 1258.0,574.2 1258.5,577.1 1259.0,580.1 1259.5,583.1 1260.1,586.0 1260.6,589.0 1261.1,592.0 1261.6,594.9 1262.1,597.9 1262.6,600.8 1263.2,603.8 1263.7,606.8 1264.2,609.7 1264.7,612.7 1265.2,615.7 1265.7,618.6 1266.2,621.6 1266.7,624.6 1267.2,627.5 1267.7,630.5 1268.2,633.5 1268.7,636.4 1269.2,639.4 1269.7,642.4 1270.2,645.3 1270.7,648.3 1271.2,651.2 1271.7,654.2 1272.2,657.2 1272.7,660.1 1273.2,663.1 1273.7,666.1 1274.2,669.0 1274.7,672.0 1275.2,675.0 1275.7,677.9 1276.2,680.9 1276.7,683.9 1277.2,686.8 1277.7,689.8 1278.2,692.7 1278.7,695.7 1279.2,698.7 1279.7,701.6 1280.2,704.6 1280.7,707.6 1281.2,710.5 1281.7,713.5 1282.2,716.4 1282.7,719.4 1283.2,722.4 1283.7,725.3 1284.2,728.3 1284.7,731.2 1285.2,734.2 1285.8,737.2 1286.3,740.1 1286.8,743.1 1287.3,746.0 1287.8,749.0 1288.3,751.9 1288.8,754.9 1289.4,757.9 1289.9,760.8 1290.4,763.8 1290.9,766.7 1291.4,769.7 1291.9,772.6 1292.5,775.6 1293.0,778.5 1293.5,781.5 1294.0,784.5 1294.6,787.4 1295.1,790.4 1295.6,793.3 1296.2,796.3 1296.7,799.2 1297.2,802.2 1297.8,805.1 1298.3,808.1 1298.9,811.0 1299.4,814.0 1299.9,816.9 1300.5,819.9 1301.0,822.8 1301.6,825.8 1302.1,828.7 1302.7,831.7 1303.2,834.6 1303.8,837.6 1304.3,840.5 1304.9,843.5 1305.4,846.4 1306.0,849.4 1306.6,852.3 1307.1,855.3 1307.7,858.2 1308.3,861.1 1308.8,864.1 1309.4,867.0 1310.0,870.0 1310.6,872.9 1311.1,875.9 1311.7,878.8 1312.3,881.8 1312.9,884.7 1313.5,887.6 1314.0,890.6 1314.6,893.5 1315.2,896.5 1315.8,899.4 1316.4,902.3 1317.0,905.3 1317.6,908.2 1318.2,911.2 1318.8,914.1 1319.4,917.1 1320.0,920.0 1320.6,922.9 1321.3,925.9 1321.9,928.8 1322.5,931.7 1323.1,934.7 1323.7,937.6 1324.4,940.6 1325.0,943.5 1325.6,946.4 1326.3,949.4 1326.9,952.3 1327.5,955.2 1328.2,958.2 1328.8,961.1 1329.5,964.0 1330.1,967.0 1330.8,969.9 1331.4,972.9 1332.1,975.8 1332.8,978.7 1333.4,981.7 1334.1,984.6 1334.8,987.5 1335.4,990.5 1336.1,993.4 1336.8,996.3 1337.5,999.2 1338.1,1002.2 1338.8,1005.1 1339.5,1008.0 1340.2,1011.0 1340.9,1013.9 1341.6,1016.8 1342.3,1019.8 1343.0,1022.7 1343.7,1025.6 1344.4,1028.5 1345.2,1031.5 1345.9,1034.4 1346.6,1037.3 1347.3,1040.3 1348.1,1043.2 1348.8,1046.1 1349.5,1049.0 1350.3,1052.0 1351.0,1054.9 1351.8,1057.8 1352.5,1060.7 1353.3,1063.6 1354.1,1066.5 1354.9,1069.4 1355.7,1072.3 1356.5,1075.2 1357.3,1078.1 1358.1,1081.0 1359.0,1083.8 1359.9,1086.7 1360.7,1089.5 1361.6,1092.4 1362.5,1095.2 1363.4,1098.0 1364.4,1100.8 1365.3,1103.6 1366.3,1106.4 1367.3,1109.2 1368.3,1112.0 1369.4,1114.7 1370.4,1117.5 1371.5,1120.2 1372.7,1123.0 1373.8,1125.7 1375.1,1128.4 1376.3,1131.1 1377.7,1133.8 1379.0,1136.5 1380.5,1139.2 1382.0,1141.9 1383.5,1144.5 1385.1,1147.2 1386.8,1149.9 1388.6,1152.6 1390.5,1155.2 1392.4,1157.9 1394.4,1160.6 1396.6,1163.2 1398.7,1165.6 1401.0,1167.7 1403.3,1169.4 1405.8,1170.7 1408.2,1171.3 1410.8,1171.3 1413.3,1170.6 1415.9,1169.5 1418.4,1167.9 1420.9,1166.0 1423.3,1163.9 1425.5,1161.8 1427.7,1159.6 1429.7,1157.3 1431.6,1154.9 1433.4,1152.5 1435.1,1150.0 1436.7,1147.5 1438.3,1145.0 1439.7,1142.3 1441.1,1139.7 1442.4,1137.0 1443.7,1134.3 1444.9,1131.5 1446.1,1128.8 1447.3,1126.0 1448.4,1123.2 1449.5,1120.3 1450.5,1117.5 1451.6,1114.7 1452.6,1111.9 1453.7,1109.0 1454.7,1106.2 1455.7,1103.3 1456.7,1100.5 1457.7,1097.7 1458.7,1094.8 1459.7,1092.0 1460.7,1089.1 1461.6,1086.3 1462.6,1083.4 1463.6,1080.5 1464.5,1077.7 1465.4,1074.8 1466.4,1072.0 1467.3,1069.1 1468.2,1066.2 1469.1,1063.4 1470.0,1060.5 1470.9,1057.6 1471.8,1054.8 1472.6,1051.9 1473.5,1049.0 1474.4,1046.1 1475.2,1043.2 1476.1,1040.4 1476.9,1037.5 1477.8,1034.6 1478.6,1031.7 1479.4,1028.8 1480.2,1025.9 1481.0,1023.0 1481.9,1020.2 1482.7,1017.3 1483.5,1014.4 1484.2,1011.5 1485.0,1008.6 1485.8,1005.7 1486.6,1002.8 1487.4,999.9 1488.1,997.0 1488.9,994.1 1489.7,991.2 1490.4,988.3 1491.2,985.4 1491.9,982.5 1492.7,979.5 1493.4,976.6 1494.1,973.7 1494.9,970.8 1495.6,967.9 1496.3,965.0 1497.0,962.1 1497.8,959.2 1498.5,956.3 1499.2,953.3 1499.9,950.4 1500.6,947.5 1501.3,944.6 1502.0,941.7 1502.7,938.8 1503.4,935.8 1504.1,932.9 1504.8,930.0 1505.5,927.1 1506.2,924.2 1506.9,921.2 1507.6,918.3 1508.3,915.4 1509.0,912.5 1509.6,909.6 1510.3,906.6 1511.0,903.7 1511.7,900.8 1512.4,897.9 1513.1,894.9 1513.8,892.0 1514.4,889.1 1515.1,886.2 1515.8,883.2 1516.5,880.3 1517.2,877.4 1517.9,874.5 1518.5,871.6 1519.2,868.6 1519.9,865.7 1520.6,862.8 1521.3,859.9 1522.0,856.9 1522.7,854.0 1523.4,851.1 1524.1,848.2 1524.8,845.3 1525.5,842.3 1526.2,839.4 1526.9,836.5 1527.6,833.6 1528.3,830.7 1529.0,827.7 1529.7,824.8 1530.4,821.9 1531.1,819.0 1531.9,816.1 1532.6,813.2 1533.3,810.2 1534.1,807.3 1534.8,804.4 1535.5,801.5 1536.3,798.6 1537.0,795.7 1537.8,792.8 1538.5,789.9 1539.3,787.0 1540.0,784.1 1540.8,781.1 1541.6,778.2 1542.3,775.3 1543.1,772.4 1543.8,769.5 1544.6,766.6 1545.4,763.7 1546.2,760.8 1546.9,757.9 1547.7,755.0 1548.5,752.1 1549.2,749.2 1550.0,746.3 1550.8,743.4 1551.5,740.5 1552.3,737.6 1553.0,734.6 1553.8,731.7 1554.6,728.8 1555.3,725.9 1556.1,723.0 1556.8,720.1 1557.5,717.2 1558.3,714.3 1559.0,711.3 1559.7,708.4 1560.5,705.5 1561.2,702.6 1561.9,699.7 1562.6,696.7 1563.3,693.8 1564.0,690.9 1564.7,688.0 1565.4,685.1 1566.1,682.1 1566.8,679.2 1567.5,676.3 1568.2,673.3 1568.8,670.4 1569.5,667.5 1570.2,664.6 1570.9,661.6 1571.6,658.7 1572.3,655.8 1573.0,652.9 1573.7,649.9 1574.4,647.0 1575.1,644.1 1575.8,641.2 1576.5,638.3 1577.2,635.4 1578.0,632.5 1578.7,629.5 1579.5,626.6 1580.2,623.7 1581.0,620.8 1581.8,617.9 1582.6,615.1 1583.4,612.2 1584.2,609.3 1585.0,606.4 1585.8,603.5 1586.7,600.7 1587.5,597.8 1588.4,594.9 1589.3,592.1 1590.2,589.2 1591.1,586.4 1592.1,583.5 1593.0,580.7 1594.0,577.8 1594.9,575.0 1595.9,572.2 1596.9,569.3 1597.9,566.5 1598.9,563.7 1600.0,560.9 1601.0,558.1 1602.1,555.3 1603.1,552.5 1604.2,549.7 1605.3,546.9 1606.4,544.1 1607.5,541.3 1608.6,538.5 1609.8,535.7 1610.9,533.0 1612.1,530.2 1613.2,527.4 1614.4,524.7 1615.6,521.9 1616.7,519.1 1617.9,516.4 1619.1,513.6 1620.4,510.9 1621.6,508.1 1622.8,505.4 1624.1,502.6 1625.3,499.9 1626.6,497.2 1627.8,494.4 1629.1,491.7 1630.4,489.0 1631.6,486.3 1632.9,483.5 1634.2,480.8 1635.5,478.1 1636.9,475.4 1638.2,472.7 1639.5,470.0 1640.8,467.3 1642.2,464.6 1643.5,461.9 1644.8,459.2 1646.2,456.5 1647.5,453.8 1648.9,451.1 1650.3,448.4 1651.6,445.7 1653.0,443.0 1654.4,440.4 1655.8,437.7 1657.2,435.0 1658.6,432.3 1660.0,429.7 1661.4,427.0 1662.8,424.4 1664.2,421.7 1665.7,419.1 1667.1,416.4 1668.6,413.8 1670.0,411.1 1671.5,408.5 1673.0,405.9 1674.5,403.3 1676.0,400.7 1677.5,398.1 1679.0,395.5 1680.6,392.9 1682.1,390.4 1683.7,387.8 1685.3,385.3 1686.8,382.7 1688.4,380.2 1690.1,377.7 1691.7,375.1 1693.3,372.6 1695.0,370.2 1696.7,367.7 1698.3,365.2 1700.0,362.7 1701.8,360.3 1703.5,357.9 1705.3,355.4 1707.0,353.0 1708.8,350.6 1710.6,348.3 1712.4,345.9 1714.3,343.5 1716.1,341.2 1718.0,338.9 1719.9,336.6 1721.8,334.3 1723.8,332.0 1725.7,329.7 1727.7,327.5 1729.7,325.2 1731.7,323.0 1733.8,320.8 1735.8,318.7 1737.9,316.5 1740.0,314.4 1742.1,312.3 1744.3,310.2 1746.4,308.1 1748.6,306.1 1750.8,304.0 1753.0,302.0 1755.3,300.1 1757.6,298.1 1759.8,296.2 1762.2,294.3 1764.5,292.4 1766.9,290.6 1769.2,288.8 1771.6,287.0 1774.1,285.2 1776.5,283.5 1779.0,281.8 1781.5,280.1 1784.0,278.5 1786.5,276.9 1789.1,275.3 1791.7,273.8 1794.3,272.3 1796.9,270.8 1799.6,269.3 1802.3,267.9 1805.0,266.6 1807.7,265.2 1810.5,263.9 1813.2,262.7 1816.0,261.5 1818.9,260.3 1821.7,259.1 1824.6,258.0 1827.5,257.0 1830.4,256.0 1833.4,255.0 1836.4,254.0 1839.4,253.2 1842.4,252.3 1845.4,251.6 1848.5,250.9 1851.5,250.3 1854.5,249.8 1857.5,249.4 1860.4,249.2 1863.3,249.1 1866.1,249.2 1868.9,249.4 1871.6,249.9 1874.3,250.5 1876.8,251.4 1879.3,252.4 1881.6,253.8 1883.9,255.3 1886.0,257.2 1888.0,259.2 1889.9,261.5 1891.7,264.0 1893.4,266.6 1895.0,269.4 1896.5,272.3 1898.0,275.2 1899.4,278.2 1900.8,281.2 1902.1,284.2 1903.3,287.2 1904.6,290.0 1905.8,292.8 1907.0,295.6 1908.2,298.2 1909.4,300.8 1910.7,303.4 1912.0,305.9 1913.3,308.4 1914.8,310.8 1916.3,313.3 1917.9,315.8 1919.6,318.3 1921.4,320.9 1923.3,323.5 1925.4,326.2 1927.6,328.7 1929.9,330.7 1932.2,331.9 1934.4,332.1 1936.6,331.1 1938.7,329.3 1940.7,326.9 1942.5,324.2 1944.3,321.5 1945.9,318.7 1947.4,316.0 1948.8,313.3 1950.2,310.6 1951.4,307.8 1952.6,305.1 1953.8,302.3 1954.9,299.6 1955.9,296.8 1956.9,294.0 1958.0,291.3 1959.0,288.5 1960.0,285.7 1961.1,282.9 1962.1,280.1 1963.2,277.3 1964.4,274.5 1965.5,271.7 1966.7,268.9 1968.0,266.1 1969.2,263.3 1970.5,260.5 1971.9,257.8 1973.3,255.1 1974.7,252.4 1976.2,249.7 1977.7,247.1 1979.3,244.5 1981.0,242.0 1982.6,239.5 1984.4,237.0 1986.2,234.6 1988.1,232.3 1990.0,230.0 1992.0,227.8 1994.1,225.6 1996.2,223.5 1998.3,221.5 2000.6,219.6 2002.9,217.8 2005.2,216.0 2007.6,214.3 2010.1,212.7 2012.7,211.3 2015.2,209.9 2017.9,208.6 2020.6,207.4 2023.4,206.4 2026.2,205.4 2029.1,204.6 2032.0,203.9 2035.0,203.3 2038.0,202.8 2041.1,202.4 2044.2,202.0 2047.3,201.7 2050.4,201.5 2053.5,201.2 2056.6,201.0 2059.7,200.7 2062.8,200.5 2065.9,200.1 2068.9,199.8 2071.9,199.4 2074.8,198.9 2077.7,198.3 2080.5,197.6 2083.3,196.8 2086.0,195.9" stroke="#00FF00" stroke-width="5"/>
<path d="M476.0,164.0L479.0,164.2 482.0,164.3 485.0,164.4 488.0,164.5 491.0,164.6 494.0,164.8 497.0,164.9 500.0,165.0 503.0,165.1 506.0,165.3 509.0,165.4 512.0,165.5 515.0,165.7 518.0,165.8 521.0,166.0 524.0,166.1 527.0,166.3 530.0,166.5 533.0,166.6 536.0,166.8 539.0,167.0 542.0,167.1 545.0,167.3 548.0,167.5 551.0,167.7 554.0,167.9 557.0,168.1 560.0,168.3 563.0,168.5 566.0,168.7 569.0,168.9 572.0,169.1 575.0,169.3 578.0,169.5 581.0,169.7 584.0,170.0 587.0,170.2 590.0,170.4 593.0,170.7 596.0,170.9 599.0,171.2 602.0,171.4 605.0,171.7 608.0,171.9 611.0,172.2 614.0,172.4 617.0,172.7 620.0,173.0 623.0,173.2 626.0,173.5 629.0,173.8 631.9,174.1 634.9,174.4 637.9,174.6 640.9,174.9 643.9,175.2 646.9,175.5 649.9,175.8 652.9,176.2 655.9,176.5 658.9,176.8 661.9,177.1 664.8,177.4 667.8,177.7 670.8,178.1 673.8,178.4 676.8,178.7 679.8,179.1 682.8,179.4 685.8,179.8 688.7,180.1 691.7,180.5 694.7,180.8 697.7,181.2 700.7,181.6 703.7,181.9 706.6,182.3 709.6,182.7 712.6,183.0 715.6,183.4 718.6,183.8 721.5,184.2 724.5,184.6 727.5,185.0 730.5,185.4 733.5,185.8 736.4,186.2 739.4,186.6 742.4,187.0 745.4,187.4 748.3,187.8 751.3,188.2 754.3,188.7 757.3,189.1 760.2,189.5 763.2,190.0 766.2,190.4 769.1,190.8 772.1,191.3 775.1,191.7 778.0,192.2 781.0,192.6 784.0,193.1 786.9,193.6 789.9,194.0 792.9,194.5 795.8,195.0 798.8,195.4 801.7,195.9 804.7,196.4 807.7,196.9 810.6,197.4 813.6,197.9 816.5,198.4 819.5,198.9 822.5,199.4 825.4,199.9 828.4,200.4 831.3,200.9 834.3,201.4 837.2,202.0 840.2,202.5 843.1,203.0 846.1,203.6 849.0,204.1 852.0,204.7 854.9,205.3 857.9,205.8 860.8,206.4 863.8,207.0 866.7,207.6 869.6,208.2 872.6,208.8 875.5,209.4 878.5,210.0 881.4,210.6 884.4,211.2 887.3,211.9 890.2,212.5 893.2,213.2 896.1,213.9 899.0,214.5 902.0,215.2 904.9,215.9 907.8,216.6 910.8,217.3 913.7,218.0 916.6,218.7 919.6,219.5 922.5,220.2 925.4,221.0 928.3,221.7 931.3,222.5 934.2,223.3 937.1,224.2 940.0,225.0 942.8,225.9 945.7,226.8 948.5,227.8 951.4,228.7 954.2,229.7 957.0,230.8 959.8,231.8 962.6,232.9 965.4,234.1 968.1,235.3 970.8,236.5 973.5,237.8 976.2,239.1 978.8,240.5 981.4,241.9 984.0,243.3 986.6,244.9 989.1,246.4 991.6,248.1 994.1,249.8 996.5,251.5 998.9,253.4 1001.3,255.2 1003.6,257.1 1005.9,259.1 1008.1,261.1 1010.3,263.2 1012.5,265.3 1014.6,267.5 1016.6,269.7 1018.6,272.0 1020.5,274.3 1022.4,276.7 1024.3,279.1 1026.0,281.5 1027.7,284.0 1029.4,286.5 1030.9,289.1 1032.4,291.6 1033.9,294.3 1035.3,296.9 1036.6,299.6 1037.9,302.3 1039.1,305.0 1040.3,307.8 1041.5,310.6 1042.6,313.3 1043.7,316.1 1044.8,318.9 1045.9,321.7 1047.0,324.5 1048.0,327.4 1049.1,330.2 1050.1,333.0 1051.1,335.8 1052.1,338.7 1053.0,341.5 1054.0,344.4 1055.0,347.2 1055.9,350.1 1056.8,352.9 1057.7,355.8 1058.6,358.6 1059.5,361.5 1060.4,364.4 1061.3,367.3 1062.1,370.1 1063.0,373.0 1063.8,375.9 1064.6,378.8 1065.4,381.7 1066.3,384.6 1067.0,387.5 1067.8,390.4 1068.6,393.3 1069.4,396.2 1070.1,399.1 1070.9,402.0 1071.6,404.9 1072.3,407.9 1073.0,410.8 1073.8,413.7 1074.5,416.6 1075.2,419.6 1075.8,422.5 1076.5,425.4 1077.2,428.4 1077.9,431.3 1078.5,434.2 1079.2,437.2 1079.8,440.1 1080.5,443.1 1081.1,446.0 1081.7,448.9 1082.4,451.9 1083.0,454.8 1083.6,457.8 1084.2,460.7 1084.8,463.7 1085.4,466.6 1086.0,469.6 1086.6,472.6 1087.2,475.5 1087.8,478.5 1088.4,481.4 1088.9,484.4 1089.5,487.3 1090.1,490.3 1090.7,493.2 1091.2,496.2 1091.8,499.2 1092.4,502.1 1092.9,505.1 1093.5,508.0 1094.1,511.0 1094.6,513.9 1095.2,516.9 1095.7,519.8 1096.3,522.8 1096.8,525.8 1097.4,528.7 1097.9,531.7 1098.5,534.6 1099.0,537.6 1099.6,540.5 1100.1,543.5 1100.7,546.4 1101.2,549.4 1101.7,552.3 1102.3,555.3 1102.8,558.2 1103.3,561.2 1103.9,564.2 1104.4,567.1 1104.9,570.1 1105.5,573.0 1106.0,576.0 1106.5,578.9 1107.1,581.9 1107.6,584.8 1108.1,587.8 1108.6,590.7 1109.2,593.7 1109.7,596.6 1110.2,599.6 1110.7,602.6 1111.2,605.5 1111.8,608.5 1112.3,611.4 1112.8,614.4 1113.3,617.3 1113.8,620.3 1114.3,623.2 1114.8,626.2 1115.4,629.1 1115.9,632.1 1116.4,635.0 1116.9,638.0 1117.4,641.0 1117.9,643.9 1118.4,646.9 1118.9,649.8 1119.4,652.8 1119.9,655.7 1120.5,658.7 1121.0,661.6 1121.5,664.6 1122.0,667.5 1122.5,670.5 1123.0,673.5 1123.5,676.4 1124.0,679.4 1124.5,682.3 1125.0,685.3 1125.5,688.2 1126.0,691.2 1126.5,694.2 1127.0,697.1 1127.5,700.1 1128.0,703.0 1128.5,706.0 1129.0,709.0 1129.5,711.9 1130.0,714.9 1130.6,717.8 1131.1,720.8 1131.6,723.7 1132.1,726.7 1132.6,729.7 1133.1,732.6 1133.6,735.6 1134.1,738.6 1134.6,741.5 1135.1,744.5 1135.6,747.4 1136.1,750.4 1136.6,753.4 1137.1,756.3 1137.6,759.3 1138.1,762.3 1138.7,765.2 1139.2,768.2 1139.7,771.2 1140.2,774.1 1140.7,777.1 1141.2,780.1 1141.7,783.0 1142.2,786.0 1142.7,789.0 1143.3,791.9 1143.8,794.9 1144.3,797.9 1144.8,800.8 1145.3,803.8 1145.8,806.8 1146.4,809.8 1146.9,812.7 1147.4,815.7 1147.9,818.7 1148.5,821.6 1149.0,824.6 1149.5,827.6 1150.0,830.6 1150.6,833.5 1151.1,836.5 1151.6,839.5 1152.1,842.4 1152.7,845.4 1153.2,848.4 1153.8,851.4 1154.3,854.3 1154.8,857.3 1155.4,860.3 1155.9,863.2 1156.5,866.2 1157.0,869.2 1157.6,872.1 1158.1,875.1 1158.7,878.1 1159.2,881.1 1159.8,884.0 1160.3,887.0 1160.9,889.9 1161.4,892.9 1162.0,895.9 1162.6,898.8 1163.1,901.8 1163.7,904.7 1164.3,907.7 1164.8,910.7 1165.4,913.6 1166.0,916.6 1166.6,919.5 1167.2,922.5 1167.7,925.4 1168.3,928.4 1168.9,931.3 1169.5,934.3 1170.1,937.2 1170.7,940.2 1171.3,943.1 1171.9,946.0 1172.5,949.0 1173.1,951.9 1173.7,954.8 1174.4,957.8 1175.0,960.7 1175.6,963.6 1176.2,966.5 1176.8,969.5 1177.5,972.4 1178.1,975.3 1178.7,978.2 1179.4,981.1 1180.0,984.1 1180.7,987.0 1181.3,989.9 1182.0,992.8 1182.6,995.7 1183.3,998.6 1183.9,1001.5 1184.6,1004.4 1185.3,1007.3 1186.0,1010.2 1186.6,1013.0 1187.3,1015.9 1188.0,1018.8 1188.7,1021.7 1189.4,1024.6 1190.1,1027.5 1190.9,1030.3 1191.6,1033.2 1192.4,1036.1 1193.1,1039.0 1193.9,1041.8 1194.7,1044.7 1195.5,1047.6 1196.3,1050.4 1197.1,1053.3 1197.9,1056.2 1198.8,1059.1 1199.7,1061.9 1200.6,1064.8 1201.5,1067.7 1202.4,1070.5 1203.3,1073.4 1204.3,1076.3 1205.3,1079.2 1206.3,1082.0 1207.3,1084.9 1208.3,1087.8 1209.4,1090.7 1210.5,1093.5 1211.6,1096.4 1212.7,1099.3 1213.9,1102.2 1215.1,1105.0 1216.3,1107.9 1217.6,1110.7 1218.9,1113.6 1220.2,1116.4 1221.6,1119.1 1223.0,1121.9 1224.5,1124.6 1226.0,1127.3 1227.5,1129.9 1229.2,1132.6 1230.8,1135.1 1232.5,1137.6 1234.3,1140.1 1236.2,1142.5 1238.1,1144.9 1240.0,1147.2 1242.1,1149.4 1244.2,1151.6 1246.3,1153.7 1248.6,1155.7 1250.9,1157.7 1253.3,1159.5 1255.7,1161.3 1258.2,1162.8 1260.7,1164.3 1263.3,1165.6 1265.9,1166.7 1268.6,1167.6 1271.3,1168.4 1274.0,1168.9 1276.8,1169.2 1279.5,1169.4 1282.3,1169.3 1285.0,1169.0 1287.7,1168.5 1290.4,1167.8 1293.1,1167.0 1295.7,1165.9 1298.3,1164.7 1300.9,1163.3 1303.4,1161.8 1305.8,1160.2 1308.3,1158.4 1310.6,1156.5 1313.0,1154.5 1315.3,1152.4 1317.6,1150.3 1319.8,1148.0 1322.0,1145.8 1324.2,1143.4 1326.3,1141.1 1328.4,1138.7 1330.5,1136.3 1332.6,1133.9 1334.6,1131.5 1336.6,1129.1 1338.6,1126.7 1340.6,1124.4 1342.5,1122.0 1344.4,1119.6 1346.3,1117.2 1348.1,1114.8 1350.0,1112.4 1351.8,1110.0 1353.6,1107.6 1355.3,1105.2 1357.1,1102.8 1358.8,1100.4 1360.5,1097.9 1362.2,1095.5 1363.8,1093.1 1365.5,1090.6 1367.1,1088.1 1368.7,1085.7 1370.3,1083.2 1371.8,1080.7 1373.4,1078.1 1374.9,1075.6 1376.4,1073.1 1377.8,1070.5 1379.3,1067.9 1380.7,1065.3 1382.2,1062.7 1383.6,1060.1 1385.0,1057.5 1386.3,1054.8 1387.7,1052.1 1389.1,1049.5 1390.4,1046.8 1391.7,1044.1 1393.1,1041.4 1394.4,1038.6 1395.7,1035.9 1397.0,1033.2 1398.3,1030.4 1399.6,1027.7 1400.9,1025.0 1402.2,1022.2 1403.5,1019.5 1404.8,1016.7 1406.0,1014.0 1407.3,1011.3 1408.6,1008.5 1409.9,1005.8 1411.2,1003.0 1412.6,1000.3 1413.9,997.6 1415.2,994.9 1416.5,992.2 1417.9,989.5 1419.2,986.8 1420.6,984.1 1422.0,981.4 1423.3,978.7 1424.7,976.0 1426.1,973.4 1427.4,970.7 1428.8,968.0 1430.2,965.4 1431.6,962.7 1432.9,960.0 1434.3,957.4 1435.7,954.7 1437.1,952.1 1438.5,949.4 1439.9,946.7 1441.2,944.1 1442.6,941.4 1444.0,938.8 1445.4,936.1 1446.8,933.5 1448.1,930.8 1449.5,928.1 1450.8,925.5 1452.2,922.8 1453.5,920.1 1454.9,917.5 1456.2,914.8 1457.6,912.1 1458.9,909.4 1460.2,906.7 1461.5,904.0 1462.8,901.3 1464.1,898.6 1465.4,895.9 1466.6,893.2 1467.9,890.5 1469.2,887.8 1470.4,885.0 1471.6,882.3 1472.9,879.6 1474.1,876.8 1475.3,874.1 1476.5,871.3 1477.7,868.6 1478.9,865.8 1480.1,863.1 1481.3,860.3 1482.5,857.5 1483.7,854.8 1484.8,852.0 1486.0,849.2 1487.2,846.4 1488.3,843.7 1489.5,840.9 1490.6,838.1 1491.8,835.3 1492.9,832.5 1494.0,829.7 1495.2,827.0 1496.3,824.2 1497.4,821.4 1498.6,818.6 1499.7,815.8 1500.8,813.0 1501.9,810.2 1503.1,807.4 1504.2,804.6 1505.3,801.8 1506.4,799.0 1507.6,796.2 1508.7,793.4 1509.8,790.6 1510.9,787.8 1512.1,785.1 1513.2,782.3 1514.3,779.5 1515.4,776.7 1516.6,773.9 1517.7,771.1 1518.8,768.3 1519.9,765.5 1521.1,762.7 1522.2,760.0 1523.3,757.2 1524.4,754.4 1525.6,751.6 1526.7,748.8 1527.8,746.0 1529.0,743.2 1530.1,740.5 1531.2,737.7 1532.4,734.9 1533.5,732.1 1534.6,729.3 1535.8,726.6 1536.9,723.8 1538.1,721.0 1539.2,718.2 1540.4,715.5 1541.5,712.7 1542.6,709.9 1543.8,707.1 1544.9,704.4 1546.1,701.6 1547.3,698.8 1548.4,696.0 1549.6,693.3 1550.7,690.5 1551.9,687.7 1553.0,685.0 1554.2,682.2 1555.4,679.4 1556.5,676.7 1557.7,673.9 1558.9,671.1 1560.1,668.4 1561.2,665.6 1562.4,662.9 1563.6,660.1 1564.8,657.3 1565.9,654.6 1567.1,651.8 1568.3,649.1 1569.5,646.3 1570.7,643.6 1571.9,640.8 1573.1,638.1 1574.3,635.3 1575.5,632.6 1576.7,629.8 1577.9,627.1 1579.1,624.3 1580.4,621.6 1581.6,618.8 1582.8,616.1 1584.0,613.4 1585.2,610.6 1586.5,607.9 1587.7,605.1 1588.9,602.4 1590.2,599.7 1591.4,596.9 1592.7,594.2 1593.9,591.5 1595.2,588.8 1596.4,586.0 1597.7,583.3 1598.9,580.6 1600.2,577.8 1601.5,575.1 1602.8,572.4 1604.0,569.7 1605.3,567.0 1606.6,564.2 1607.9,561.5 1609.2,558.8 1610.5,556.1 1611.8,553.4 1613.1,550.7 1614.4,548.0 1615.7,545.3 1617.0,542.6 1618.3,539.9 1619.6,537.2 1621.0,534.5 1622.3,531.8 1623.6,529.1 1625.0,526.4 1626.3,523.7 1627.7,521.0 1629.0,518.3 1630.4,515.6 1631.7,512.9 1633.1,510.2 1634.5,507.5 1635.9,504.8 1637.2,502.2 1638.6,499.5 1640.0,496.8 1641.4,494.1 1642.8,491.4 1644.2,488.8 1645.6,486.1 1647.1,483.4 1648.5,480.8 1649.9,478.1 1651.4,475.5 1652.8,472.8 1654.3,470.2 1655.8,467.6 1657.3,465.0 1658.8,462.4 1660.3,459.7 1661.8,457.2 1663.4,454.6 1664.9,452.0 1666.5,449.4 1668.1,446.9 1669.7,444.4 1671.3,441.8 1673.0,439.3 1674.6,436.8 1676.3,434.3 1678.0,431.9 1679.7,429.4 1681.4,427.0 1683.2,424.6 1685.0,422.1 1686.7,419.8 1688.6,417.4 1690.4,415.0 1692.3,412.7 1694.1,410.4 1696.1,408.1 1698.0,405.8 1700.0,403.6 1701.9,401.3 1703.9,399.1 1706.0,396.9 1708.0,394.7 1710.1,392.5 1712.1,390.4 1714.2,388.2 1716.4,386.1 1718.5,384.0 1720.7,381.9 1722.8,379.8 1725.0,377.8 1727.2,375.7 1729.4,373.7 1731.6,371.7 1733.9,369.6 1736.1,367.6 1738.4,365.6 1740.7,363.6 1742.9,361.7 1745.2,359.7 1747.5,357.7 1749.8,355.8 1752.1,353.8 1754.5,351.9 1756.8,350.0 1759.1,348.1 1761.5,346.2 1763.8,344.3 1766.2,342.5 1768.6,340.6 1771.0,338.8 1773.4,337.0 1775.8,335.2 1778.3,333.4 1780.7,331.6 1783.2,329.9 1785.6,328.2 1788.1,326.5 1790.6,324.9 1793.1,323.2 1795.7,321.6 1798.2,320.0 1800.8,318.5 1803.4,316.9 1806.0,315.5 1808.6,314.0 1811.2,312.6 1813.8,311.2 1816.5,309.8 1819.2,308.5 1821.9,307.2 1824.6,306.0 1827.4,304.8 1830.1,303.6 1832.9,302.5 1835.7,301.5 1838.5,300.5 1841.3,299.5 1844.2,298.5 1847.0,297.6 1849.9,296.7 1852.8,295.8 1855.6,295.0 1858.5,294.1 1861.4,293.3 1864.3,292.5 1867.2,291.7 1870.2,290.9 1873.1,290.2 1876.0,289.4 1878.9,288.6 1881.8,287.9 1884.8,287.1 1887.7,286.3 1890.6,285.5 1893.5,284.8 1896.4,284.0 1899.3,283.2 1902.2,282.4 1905.1,281.6 1908.0,280.8 1910.9,280.1 1913.8,279.3 1916.7,278.5 1919.7,277.7 1922.6,277.0 1925.5,276.2 1928.4,275.5 1931.3,274.7 1934.2,274.0 1937.1,273.3 1940.0,272.6 1942.9,271.9 1945.9,271.2 1948.8,270.6 1951.7,269.9 1954.7,269.3 1957.6,268.7 1960.5,268.1 1963.5,267.5 1966.4,266.9 1969.4,266.4 1972.3,265.9 1975.3,265.4 1978.2,264.9 1981.2,264.4 1984.2,263.9 1987.1,263.5 1990.1,263.1 1993.1,262.7 1996.1,262.3 1999.1,261.9 2002.0,261.5 2005.0,261.2 2008.0,260.9 2011.0,260.5 2014.0,260.2 2017.0,259.9 2020.0,259.6 2023.0,259.4 2026.0,259.1 2029.0,258.9 2032.0,258.6 2035.0,258.4 2038.0,258.2 2041.0,258.0 2044.0,257.8 2047.0,257.6 2050.0,257.4 2053.0,257.2 2056.0,257.0 2059.0,256.9 2062.0,256.7 2065.0,256.6 2068.0,256.4 2071.0,256.3 2074.0,256.2 2077.0,256.1 2080.0,255.9 2083.0,255.8 2086.0,255.7" stroke="#0000FF" stroke-width="5"/>
<path d="M476.0,315.0L478.7,313.7 481.5,312.5 484.2,311.3 487.0,310.1 489.7,308.9 492.5,307.8 495.2,306.6 498.0,305.4 500.7,304.1 503.5,302.9 506.2,301.7 508.9,300.5 511.7,299.3 514.4,298.1 517.2,296.9 519.9,295.7 522.7,294.4 525.4,293.2 528.1,292.0 530.9,290.8 533.6,289.6 536.4,288.3 539.1,287.1 541.8,285.9 544.6,284.6 547.3,283.4 550.1,282.2 552.8,280.9 555.5,279.7 558.3,278.5 561.0,277.2 563.8,276.0 566.5,274.7 569.2,273.5 572.0,272.2 574.7,271.0 577.4,269.8 580.2,268.5 582.9,267.3 585.7,266.0 588.4,264.8 591.1,263.5 593.9,262.3 596.6,261.0 599.3,259.8 602.1,258.6 604.8,257.3 607.6,256.1 610.3,254.8 613.0,253.6 615.8,252.3 618.5,251.1 621.2,249.8 624.0,248.6 626.7,247.3 629.5,246.1 632.2,244.9 634.9,243.6 637.7,242.4 640.4,241.1 643.2,239.9 645.9,238.7 648.6,237.4 651.4,236.2 654.1,235.0 656.9,233.7 659.6,232.5 662.3,231.3 665.1,230.0 667.8,228.8 670.6,227.6 673.3,226.3 676.1,225.1 678.8,223.9 681.5,222.7 684.3,221.5 687.0,220.2 689.8,219.0 692.5,217.8 695.3,216.6 698.0,215.4 700.8,214.2 703.5,213.0 706.3,211.8 709.0,210.6 711.8,209.4 714.5,208.2 717.3,207.0 720.0,205.8 722.8,204.6 725.5,203.4 728.3,202.3 731.0,201.1 733.8,199.9 736.6,198.7 739.3,197.6 742.1,196.4 744.8,195.2 747.6,194.1 750.3,192.9 753.1,191.8 755.9,190.6 758.6,189.5 761.4,188.3 764.2,187.2 766.9,186.0 769.7,184.9 772.5,183.8 775.2,182.7 778.0,181.6 780.8,180.5 783.6,179.5 786.4,178.4 789.2,177.4 792.0,176.4 794.8,175.4 797.7,174.4 800.5,173.5 803.4,172.5 806.2,171.7 809.1,170.8 812.0,170.0 814.9,169.2 817.8,168.4 820.8,167.7 823.7,167.0 826.7,166.3 829.7,165.7 832.7,165.1 835.7,164.6 838.7,164.1 841.8,163.7 844.8,163.3 847.9,163.0 850.9,162.7 854.0,162.5 857.0,162.4 860.1,162.4 863.1,162.4 866.1,162.6 869.1,162.8 872.1,163.1 875.1,163.4 878.0,163.9 881.0,164.5 883.9,165.2 886.7,166.0 889.6,166.9 892.3,167.9 895.1,169.0 897.8,170.3 900.4,171.6 903.0,173.0 905.5,174.5 907.9,176.1 910.3,177.9 912.6,179.7 914.8,181.7 916.9,183.7 919.0,185.8 920.9,188.1 922.8,190.4 924.7,192.8 926.4,195.2 928.1,197.7 929.8,200.3 931.4,202.9 932.9,205.5 934.4,208.1 935.9,210.8 937.3,213.5 938.8,216.1 940.1,218.8 941.5,221.6 942.8,224.3 944.0,227.0 945.3,229.8 946.5,232.5 947.7,235.3 948.8,238.1 950.0,240.9 951.1,243.7 952.2,246.5 953.2,249.3 954.3,252.1 955.3,254.9 956.3,257.7 957.3,260.6 958.3,263.4 959.2,266.3 960.2,269.1 961.1,272.0 962.0,274.8 962.9,277.7 963.8,280.6 964.7,283.5 965.6,286.3 966.4,289.2 967.3,292.1 968.1,295.0 969.0,297.8 969.8,300.7 970.6,303.6 971.5,306.5 972.3,309.4 973.1,312.3 973.9,315.1 974.7,318.0 975.4,320.9 976.2,323.8 977.0,326.7 977.8,329.6 978.5,332.5 979.3,335.4 980.0,338.3 980.7,341.2 981.5,344.1 982.2,347.0 982.9,349.9 983.6,352.9 984.3,355.8 985.0,358.7 985.7,361.6 986.4,364.5 987.1,367.4 987.8,370.3 988.5,373.3 989.1,376.2 989.8,379.1 990.4,382.0 991.1,385.0 991.7,387.9 992.4,390.8 993.0,393.7 993.6,396.7 994.3,399.6 994.9,402.5 995.5,405.5 996.1,408.4 996.7,411.3 997.3,414.3 997.9,417.2 998.5,420.1 999.1,423.1 999.7,426.0 1000.3,429.0 1000.9,431.9 1001.4,434.9 1002.0,437.8 1002.6,440.7 1003.1,443.7 1003.7,446.6 1004.3,449.6 1004.8,452.5 1005.4,455.5 1005.9,458.4 1006.5,461.4 1007.0,464.3 1007.5,467.3 1008.1,470.2 1008.6,473.2 1009.1,476.1 1009.7,479.1 1010.2,482.1 1010.7,485.0 1011.2,488.0 1011.7,490.9 1012.3,493.9 1012.8,496.8 1013.3,499.8 1013.8,502.8 1014.3,505.7 1014.8,508.7 1015.3,511.6 1015.8,514.6 1016.3,517.6 1016.8,520.5 1017.3,523.5 1017.8,526.5 1018.3,529.4 1018.8,532.4 1019.3,535.4 1019.8,538.3 1020.3,541.3 1020.8,544.3 1021.3,547.2 1021.8,550.2 1022.2,553.2 1022.7,556.1 1023.2,559.1 1023.7,562.1 1024.2,565.0 1024.7,568.0 1025.2,571.0 1025.7,573.9 1026.1,576.9 1026.6,579.9 1027.1,582.8 1027.6,585.8 1028.1,588.8 1028.6,591.7 1029.1,594.7 1029.6,597.7 1030.1,600.6 1030.6,603.6 1031.0,606.6 1031.5,609.5 1032.0,612.5 1032.5,615.5 1033.0,618.4 1033.5,621.4 1034.0,624.4 1034.5,627.4 1035.0,630.3 1035.5,633.3 1036.0,636.3 1036.5,639.2 1037.0,642.2 1037.5,645.2 1038.0,648.1 1038.6,651.1 1039.1,654.1 1039.6,657.0 1040.1,660.0 1040.6,663.0 1041.1,665.9 1041.6,668.9 1042.2,671.8 1042.7,674.8 1043.2,677.8 1043.7,680.7 1044.2,683.7 1044.8,686.7 1045.3,689.6 1045.8,692.6 1046.4,695.5 1046.9,698.5 1047.4,701.5 1048.0,704.4 1048.5,707.4 1049.0,710.4 1049.6,713.3 1050.1,716.3 1050.7,719.2 1051.2,722.2 1051.8,725.1 1052.3,728.1 1052.9,731.1 1053.4,734.0 1054.0,737.0 1054.5,739.9 1055.1,742.9 1055.7,745.8 1056.2,748.8 1056.8,751.7 1057.4,754.7 1057.9,757.6 1058.5,760.6 1059.1,763.5 1059.7,766.5 1060.2,769.4 1060.8,772.4 1061.4,775.3 1062.0,778.3 1062.6,781.2 1063.2,784.2 1063.8,787.1 1064.4,790.1 1065.0,793.0 1065.6,796.0 1066.2,798.9 1066.8,801.8 1067.4,804.8 1068.0,807.7 1068.6,810.7 1069.3,813.6 1069.9,816.5 1070.5,819.5 1071.1,822.4 1071.8,825.3 1072.4,828.3 1073.0,831.2 1073.7,834.1 1074.3,837.1 1074.9,840.0 1075.6,842.9 1076.2,845.9 1076.9,848.8 1077.6,851.7 1078.2,854.7 1078.9,857.6 1079.5,860.5 1080.2,863.4 1080.9,866.3 1081.6,869.3 1082.2,872.2 1082.9,875.1 1083.6,878.0 1084.3,880.9 1085.0,883.9 1085.7,886.8 1086.4,889.7 1087.1,892.6 1087.8,895.5 1088.5,898.4 1089.2,901.3 1089.9,904.3 1090.6,907.2 1091.4,910.1 1092.1,913.0 1092.8,915.9 1093.6,918.8 1094.3,921.7 1095.0,924.6 1095.8,927.5 1096.5,930.4 1097.3,933.3 1098.0,936.2 1098.8,939.1 1099.6,942.0 1100.3,944.9 1101.1,947.7 1101.9,950.6 1102.7,953.5 1103.4,956.4 1104.2,959.3 1105.0,962.2 1105.8,965.1 1106.6,967.9 1107.4,970.8 1108.2,973.7 1109.0,976.6 1109.9,979.5 1110.7,982.3 1111.5,985.2 1112.3,988.1 1113.2,991.0 1114.0,993.8 1114.9,996.7 1115.7,999.6 1116.6,1002.4 1117.4,1005.3 1118.3,1008.2 1119.1,1011.0 1120.0,1013.9 1120.9,1016.7 1121.8,1019.6 1122.7,1022.4 1123.6,1025.3 1124.5,1028.2 1125.4,1031.0 1126.3,1033.9 1127.2,1036.7 1128.1,1039.6 1129.0,1042.4 1130.0,1045.3 1130.9,1048.1 1131.9,1051.0 1132.8,1053.8 1133.8,1056.7 1134.7,1059.5 1135.7,1062.3 1136.7,1065.2 1137.7,1068.0 1138.7,1070.9 1139.7,1073.7 1140.7,1076.6 1141.7,1079.4 1142.8,1082.3 1143.8,1085.1 1144.8,1087.9 1145.9,1090.8 1146.9,1093.6 1148.0,1096.5 1149.1,1099.3 1150.2,1102.2 1151.3,1105.0 1152.5,1107.8 1153.7,1110.6 1154.9,1113.4 1156.1,1116.1 1157.4,1118.9 1158.8,1121.6 1160.2,1124.3 1161.6,1127.0 1163.1,1129.6 1164.7,1132.2 1166.3,1134.7 1168.0,1137.3 1169.7,1139.7 1171.6,1142.2 1173.5,1144.5 1175.5,1146.9 1177.6,1149.2 1179.8,1151.4 1182.1,1153.5 1184.5,1155.6 1187.0,1157.6 1189.5,1159.6 1192.1,1161.4 1194.7,1163.0 1197.4,1164.5 1200.2,1165.9 1202.9,1167.1 1205.6,1168.1 1208.4,1168.8 1211.1,1169.4 1213.8,1169.7 1216.5,1169.7 1219.1,1169.5 1221.7,1169.0 1224.2,1168.2 1226.6,1167.2 1229.0,1165.9 1231.4,1164.5 1233.7,1162.9 1236.0,1161.1 1238.2,1159.2 1240.4,1157.2 1242.6,1155.1 1244.7,1152.9 1246.8,1150.7 1248.9,1148.4 1251.0,1146.1 1253.0,1143.8 1255.0,1141.4 1257.0,1139.1 1258.9,1136.7 1260.8,1134.4 1262.7,1132.0 1264.6,1129.6 1266.5,1127.2 1268.3,1124.8 1270.1,1122.4 1271.9,1119.9 1273.7,1117.5 1275.5,1115.0 1277.2,1112.5 1278.9,1110.0 1280.6,1107.5 1282.3,1105.0 1283.9,1102.5 1285.6,1100.0 1287.2,1097.4 1288.8,1094.9 1290.4,1092.3 1292.0,1089.8 1293.5,1087.2 1295.1,1084.6 1296.6,1082.0 1298.1,1079.4 1299.6,1076.8 1301.1,1074.2 1302.5,1071.6 1304.0,1069.0 1305.4,1066.3 1306.9,1063.7 1308.3,1061.0 1309.7,1058.4 1311.1,1055.7 1312.5,1053.1 1313.9,1050.4 1315.2,1047.7 1316.6,1045.0 1317.9,1042.4 1319.3,1039.7 1320.6,1037.0 1321.9,1034.3 1323.2,1031.6 1324.5,1028.9 1325.8,1026.2 1327.1,1023.5 1328.4,1020.8 1329.7,1018.0 1331.0,1015.3 1332.3,1012.6 1333.5,1009.9 1334.8,1007.2 1336.1,1004.4 1337.3,1001.7 1338.6,999.0 1339.8,996.3 1341.1,993.5 1342.3,990.8 1343.6,988.1 1344.8,985.3 1346.0,982.6 1347.2,979.8 1348.5,977.1 1349.7,974.4 1350.9,971.6 1352.1,968.9 1353.3,966.1 1354.5,963.4 1355.7,960.6 1356.9,957.9 1358.1,955.1 1359.3,952.3 1360.5,949.6 1361.6,946.8 1362.8,944.1 1364.0,941.3 1365.2,938.5 1366.3,935.8 1367.5,933.0 1368.6,930.2 1369.8,927.5 1370.9,924.7 1372.1,921.9 1373.2,919.1 1374.4,916.4 1375.5,913.6 1376.6,910.8 1377.8,908.0 1378.9,905.2 1380.0,902.4 1381.2,899.7 1382.3,896.9 1383.4,894.1 1384.5,891.3 1385.6,888.5 1386.7,885.7 1387.8,882.9 1388.9,880.1 1390.0,877.3 1391.1,874.6 1392.2,871.8 1393.3,869.0 1394.4,866.2 1395.5,863.4 1396.6,860.6 1397.6,857.8 1398.7,855.0 1399.8,852.2 1400.9,849.3 1401.9,846.5 1403.0,843.7 1404.1,840.9 1405.1,838.1 1406.2,835.3 1407.3,832.5 1408.3,829.7 1409.4,826.9 1410.4,824.1 1411.5,821.3 1412.5,818.4 1413.6,815.6 1414.6,812.8 1415.7,810.0 1416.7,807.2 1417.8,804.4 1418.8,801.5 1419.8,798.7 1420.9,795.9 1421.9,793.1 1422.9,790.3 1424.0,787.4 1425.0,784.6 1426.0,781.8 1427.1,779.0 1428.1,776.1 1429.1,773.3 1430.1,770.5 1431.1,767.7 1432.2,764.8 1433.2,762.0 1434.2,759.2 1435.2,756.4 1436.2,753.5 1437.3,750.7 1438.3,747.9 1439.3,745.1 1440.3,742.2 1441.3,739.4 1442.3,736.6 1443.3,733.7 1444.3,730.9 1445.3,728.1 1446.3,725.3 1447.3,722.4 1448.4,719.6 1449.4,716.8 1450.4,713.9 1451.4,711.1 1452.4,708.3 1453.4,705.4 1454.4,702.6 1455.4,699.8 1456.4,696.9 1457.4,694.1 1458.4,691.3 1459.4,688.5 1460.4,685.6 1461.4,682.8 1462.4,680.0 1463.4,677.1 1464.4,674.3 1465.4,671.5 1466.4,668.6 1467.4,665.8 1468.4,663.0 1469.4,660.1 1470.4,657.3 1471.4,654.5 1472.4,651.7 1473.4,648.8 1474.4,646.0 1475.4,643.2 1476.4,640.3 1477.4,637.5 1478.4,634.7 1479.4,631.9 1480.4,629.0 1481.4,626.2 1482.4,623.4 1483.5,620.6 1484.5,617.7 1485.5,614.9 1486.5,612.1 1487.5,609.3 1488.5,606.4 1489.6,603.6 1490.6,600.8 1491.6,598.0 1492.6,595.1 1493.6,592.3 1494.7,589.5 1495.7,586.7 1496.7,583.9 1497.8,581.1 1498.8,578.2 1499.8,575.4 1500.9,572.6 1501.9,569.8 1503.0,567.0 1504.0,564.2 1505.1,561.4 1506.1,558.5 1507.2,555.7 1508.2,552.9 1509.3,550.1 1510.3,547.3 1511.4,544.5 1512.5,541.7 1513.5,538.9 1514.6,536.1 1515.7,533.3 1516.7,530.5 1517.8,527.7 1518.9,524.9 1520.0,522.1 1521.1,519.3 1522.2,516.5 1523.3,513.7 1524.4,510.9 1525.5,508.1 1526.6,505.3 1527.7,502.5 1528.8,499.7 1529.9,497.0 1531.0,494.2 1532.1,491.4 1533.3,488.6 1534.4,485.8 1535.5,483.0 1536.7,480.3 1537.8,477.5 1538.9,474.7 1540.1,471.9 1541.2,469.1 1542.4,466.4 1543.6,463.6 1544.7,460.8 1545.9,458.1 1547.1,455.3 1548.2,452.5 1549.4,449.8 1550.6,447.0 1551.8,444.2 1553.0,441.5 1554.2,438.7 1555.4,436.0 1556.6,433.2 1557.8,430.5 1559.0,427.7 1560.3,425.0 1561.5,422.2 1562.7,419.5 1564.0,416.7 1565.2,414.0 1566.5,411.3 1567.7,408.5 1569.0,405.8 1570.2,403.0 1571.5,400.3 1572.8,397.6 1574.1,394.9 1575.4,392.1 1576.7,389.4 1578.0,386.7 1579.3,384.0 1580.6,381.3 1582.0,378.6 1583.3,375.9 1584.7,373.2 1586.1,370.5 1587.4,367.9 1588.8,365.2 1590.2,362.5 1591.6,359.9 1593.1,357.3 1594.5,354.6 1596.0,352.0 1597.4,349.4 1598.9,346.8 1600.4,344.2 1601.9,341.6 1603.5,339.0 1605.0,336.5 1606.6,333.9 1608.2,331.4 1609.8,328.8 1611.4,326.3 1613.0,323.8 1614.7,321.3 1616.3,318.8 1618.0,316.4 1619.7,313.9 1621.5,311.5 1623.2,309.1 1625.0,306.7 1626.8,304.3 1628.6,301.9 1630.4,299.5 1632.3,297.2 1634.2,294.9 1636.1,292.6 1638.0,290.3 1639.9,288.0 1641.9,285.7 1643.9,283.5 1645.9,281.2 1647.9,279.0 1650.0,276.8 1652.0,274.6 1654.1,272.5 1656.2,270.3 1658.3,268.2 1660.4,266.0 1662.6,263.9 1664.7,261.8 1666.9,259.7 1669.1,257.7 1671.3,255.6 1673.5,253.6 1675.8,251.5 1678.0,249.5 1680.3,247.5 1682.5,245.5 1684.8,243.5 1687.1,241.6 1689.4,239.6 1691.7,237.7 1694.0,235.8 1696.4,233.8 1698.7,231.9 1701.1,230.1 1703.5,228.2 1705.8,226.4 1708.2,224.5 1710.6,222.7 1713.1,220.9 1715.5,219.2 1717.9,217.4 1720.4,215.7 1722.9,214.0 1725.4,212.4 1727.9,210.7 1730.4,209.1 1732.9,207.5 1735.5,206.0 1738.1,204.5 1740.6,203.0 1743.3,201.5 1745.9,200.1 1748.5,198.7 1751.2,197.3 1753.8,196.0 1756.5,194.7 1759.2,193.5 1762.0,192.3 1764.7,191.1 1767.5,190.0 1770.3,188.8 1773.0,187.8 1775.8,186.7 1778.7,185.7 1781.5,184.7 1784.3,183.7 1787.2,182.8 1790.0,181.8 1792.9,180.9 1795.8,180.0 1798.7,179.2 1801.6,178.3 1804.5,177.5 1807.4,176.7 1810.3,175.8 1813.2,175.0 1816.1,174.3 1819.0,173.5 1821.9,172.7 1824.8,172.0 1827.8,171.2 1830.7,170.5 1833.6,169.7 1836.5,169.0 1839.4,168.3 1842.4,167.6 1845.3,166.9 1848.2,166.2 1851.2,165.5 1854.1,164.9 1857.0,164.2 1860.0,163.5 1862.9,162.9 1865.8,162.2 1868.8,161.6 1871.7,161.0 1874.6,160.4 1877.6,159.8 1880.5,159.2 1883.5,158.6 1886.4,158.0 1889.4,157.4 1892.3,156.8 1895.3,156.3 1898.2,155.7 1901.2,155.1 1904.1,154.6 1907.1,154.1 1910.0,153.5 1913.0,153.0 1915.9,152.5 1918.9,152.0 1921.9,151.5 1924.8,151.0 1927.8,150.5 1930.7,150.1 1933.7,149.6 1936.7,149.1 1939.6,148.7 1942.6,148.2 1945.6,147.8 1948.5,147.4 1951.5,146.9 1954.5,146.5 1957.4,146.1 1960.4,145.7 1963.4,145.3 1966.4,144.9 1969.3,144.5 1972.3,144.1 1975.3,143.8 1978.3,143.4 1981.2,143.1 1984.2,142.7 1987.2,142.4 1990.2,142.0 1993.2,141.7 1996.2,141.4 1999.1,141.0 2002.1,140.7 2005.1,140.4 2008.1,140.1 2011.1,139.8 2014.1,139.5 2017.1,139.3 2020.1,139.0 2023.0,138.7 2026.0,138.4 2029.0,138.2 2032.0,137.9 2035.0,137.7 2038.0,137.5 2041.0,137.2 2044.0,137.0 2047.0,136.8 2050.0,136.6 2053.0,136.3 2056.0,136.1 2059.0,135.9 2062.0,135.8 2065.0,135.6 2068.0,135.4 2071.0,135.2 2074.0,135.0 2077.0,134.9 2080.0,134.7 2083.0,134.6 2086.0,134.5" stroke="#00FFFF" stroke-width="5"/>
<path d="M476.0,168.0L479.0,168.1 482.1,168.2 485.1,168.4 488.1,168.5 491.2,168.6 494.2,168.7 497.3,168.8 500.3,168.9 503.3,169.1 506.3,169.2 509.4,169.3 512.4,169.4 515.4,169.5 518.4,169.6 521.5,169.7 524.5,169.8 527.5,169.9 530.5,170.0 533.5,170.1 536.5,170.2 539.5,170.3 542.5,170.4 545.6,170.4 548.6,170.5 551.6,170.6 554.6,170.7 557.6,170.8 560.6,170.9 563.6,171.0 566.6,171.1 569.6,171.1 572.6,171.2 575.6,171.3 578.5,171.4 581.5,171.5 584.5,171.6 587.5,171.6 590.5,171.7 593.5,171.8 596.5,171.9 599.5,172.0 602.5,172.0 605.5,172.1 608.5,172.2 611.4,172.3 614.4,172.4 617.4,172.4 620.4,172.5 623.4,172.6 626.4,172.7 629.4,172.8 632.3,172.9 635.3,173.0 638.3,173.0 641.3,173.1 644.3,173.2 647.3,173.3 650.2,173.4 653.2,173.5 656.2,173.6 659.2,173.7 662.2,173.8 665.2,173.9 668.2,174.0 671.2,174.1 674.1,174.2 677.1,174.3 680.1,174.4 683.1,174.5 686.1,174.6 689.1,174.7 692.1,174.8 695.1,174.9 698.1,175.0 701.0,175.2 704.0,175.3 707.0,175.4 710.0,175.5 713.0,175.7 716.0,175.8 719.0,175.9 722.0,176.1 725.0,176.2 728.0,176.3 731.0,176.5 734.0,176.6 737.0,176.8 740.0,176.9 743.0,177.1 746.1,177.2 749.1,177.4 752.1,177.6 755.1,177.7 758.1,177.9 761.1,178.1 764.1,178.3 767.2,178.4 770.2,178.6 773.2,178.8 776.2,179.0 779.3,179.2 782.3,179.4 785.3,179.6 788.4,179.8 791.4,180.0 794.4,180.2 797.5,180.4 800.5,180.7 803.6,180.9 806.6,181.1 809.6,181.4 812.7,181.7 815.7,181.9 818.7,182.3 821.8,182.6 824.8,183.0 827.8,183.4 830.8,183.8 833.7,184.3 836.7,184.8 839.7,185.4 842.6,186.0 845.5,186.7 848.4,187.4 851.3,188.2 854.1,189.0 856.9,190.0 859.7,190.9 862.5,192.0 865.3,193.2 868.0,194.4 870.7,195.7 873.3,197.1 875.9,198.5 878.5,200.1 881.0,201.7 883.5,203.4 885.9,205.1 888.3,206.9 890.7,208.8 893.0,210.7 895.2,212.7 897.4,214.7 899.5,216.8 901.5,219.0 903.5,221.2 905.5,223.4 907.3,225.7 909.1,228.0 910.9,230.4 912.6,232.8 914.3,235.2 915.9,237.7 917.4,240.2 919.0,242.8 920.4,245.4 921.9,248.0 923.3,250.6 924.6,253.3 926.0,256.0 927.2,258.7 928.5,261.4 929.7,264.2 930.9,267.0 932.1,269.8 933.2,272.6 934.4,275.4 935.5,278.2 936.5,281.1 937.6,283.9 938.7,286.8 939.7,289.6 940.7,292.5 941.7,295.4 942.7,298.3 943.7,301.1 944.7,304.0 945.7,306.9 946.7,309.8 947.6,312.6 948.6,315.5 949.5,318.4 950.5,321.3 951.4,324.2 952.3,327.1 953.2,329.9 954.2,332.8 955.0,335.7 955.9,338.6 956.8,341.5 957.7,344.4 958.6,347.3 959.4,350.2 960.3,353.1 961.1,356.0 962.0,358.9 962.8,361.8 963.6,364.7 964.5,367.6 965.3,370.5 966.1,373.4 966.9,376.3 967.7,379.2 968.5,382.1 969.2,385.0 970.0,387.9 970.8,390.8 971.6,393.7 972.3,396.6 973.1,399.5 973.8,402.4 974.6,405.3 975.3,408.3 976.0,411.2 976.8,414.1 977.5,417.0 978.2,419.9 978.9,422.8 979.6,425.7 980.3,428.7 981.0,431.6 981.7,434.5 982.4,437.4 983.1,440.3 983.8,443.3 984.5,446.2 985.2,449.1 985.8,452.0 986.5,455.0 987.2,457.9 987.8,460.8 988.5,463.7 989.1,466.7 989.8,469.6 990.4,472.5 991.1,475.4 991.7,478.4 992.4,481.3 993.0,484.2 993.7,487.2 994.3,490.1 994.9,493.0 995.6,496.0 996.2,498.9 996.8,501.8 997.4,504.8 998.1,507.7 998.7,510.6 999.3,513.6 999.9,516.5 1000.5,519.4 1001.1,522.4 1001.7,525.3 1002.4,528.2 1003.0,531.2 1003.6,534.1 1004.2,537.1 1004.8,540.0 1005.4,542.9 1006.0,545.9 1006.6,548.8 1007.2,551.8 1007.8,554.7 1008.4,557.6 1009.0,560.6 1009.6,563.5 1010.2,566.5 1010.8,569.4 1011.3,572.3 1011.9,575.3 1012.5,578.2 1013.1,581.2 1013.7,584.1 1014.3,587.1 1014.9,590.0 1015.5,592.9 1016.0,595.9 1016.6,598.8 1017.2,601.8 1017.8,604.7 1018.4,607.7 1019.0,610.6 1019.5,613.6 1020.1,616.5 1020.7,619.4 1021.3,622.4 1021.9,625.3 1022.5,628.3 1023.0,631.2 1023.6,634.2 1024.2,637.1 1024.8,640.1 1025.4,643.0 1025.9,645.9 1026.5,648.9 1027.1,651.8 1027.7,654.8 1028.3,657.7 1028.8,660.7 1029.4,663.6 1030.0,666.6 1030.6,669.5 1031.2,672.5 1031.8,675.4 1032.3,678.3 1032.9,681.3 1033.5,684.2 1034.1,687.2 1034.7,690.1 1035.3,693.1 1035.9,696.0 1036.5,698.9 1037.1,701.9 1037.6,704.8 1038.2,707.8 1038.8,710.7 1039.4,713.7 1040.0,716.6 1040.6,719.5 1041.2,722.5 1041.8,725.4 1042.4,728.4 1043.0,731.3 1043.6,734.3 1044.2,737.2 1044.8,740.1 1045.5,743.1 1046.1,746.0 1046.7,749.0 1047.3,751.9 1047.9,754.8 1048.5,757.8 1049.1,760.7 1049.8,763.6 1050.4,766.6 1051.0,769.5 1051.6,772.5 1052.3,775.4 1052.9,778.3 1053.5,781.3 1054.1,784.2 1054.8,787.1 1055.4,790.1 1056.1,793.0 1056.7,795.9 1057.4,798.9 1058.0,801.8 1058.6,804.7 1059.3,807.7 1060.0,810.6 1060.6,813.5 1061.3,816.5 1061.9,819.4 1062.6,822.3 1063.3,825.2 1063.9,828.2 1064.6,831.1 1065.3,834.0 1066.0,836.9 1066.6,839.9 1067.3,842.8 1068.0,845.7 1068.7,848.6 1069.4,851.6 1070.1,854.5 1070.8,857.4 1071.5,860.3 1072.2,863.2 1072.9,866.2 1073.6,869.1 1074.3,872.0 1075.1,874.9 1075.8,877.8 1076.5,880.7 1077.2,883.7 1078.0,886.6 1078.7,889.5 1079.5,892.4 1080.2,895.3 1080.9,898.2 1081.7,901.1 1082.5,904.0 1083.2,906.9 1084.0,909.9 1084.7,912.8 1085.5,915.7 1086.3,918.6 1087.1,921.5 1087.9,924.4 1088.6,927.3 1089.4,930.2 1090.2,933.1 1091.0,936.0 1091.8,938.9 1092.7,941.8 1093.5,944.7 1094.3,947.6 1095.1,950.5 1095.9,953.4 1096.8,956.2 1097.6,959.1 1098.4,962.0 1099.3,964.9 1100.1,967.8 1101.0,970.7 1101.9,973.6 1102.7,976.5 1103.6,979.3 1104.5,982.2 1105.3,985.1 1106.2,988.0 1107.1,990.9 1108.0,993.8 1108.9,996.6 1109.8,999.5 1110.7,1002.4 1111.7,1005.3 1112.6,1008.1 1113.5,1011.0 1114.4,1013.9 1115.4,1016.7 1116.3,1019.6 1117.3,1022.5 1118.2,1025.3 1119.2,1028.2 1120.1,1031.1 1121.1,1033.9 1122.1,1036.8 1123.1,1039.7 1124.1,1042.5 1125.1,1045.4 1126.1,1048.2 1127.1,1051.1 1128.1,1053.9 1129.1,1056.8 1130.1,1059.6 1131.2,1062.5 1132.2,1065.3 1133.2,1068.2 1134.3,1071.0 1135.4,1073.9 1136.4,1076.7 1137.5,1079.5 1138.6,1082.4 1139.6,1085.2 1140.7,1088.1 1141.8,1090.9 1142.9,1093.7 1144.0,1096.6 1145.2,1099.4 1146.3,1102.2 1147.4,1105.0 1148.6,1107.8 1149.8,1110.6 1151.0,1113.4 1152.3,1116.1 1153.6,1118.8 1154.9,1121.5 1156.3,1124.2 1157.8,1126.8 1159.3,1129.4 1160.8,1131.9 1162.4,1134.5 1164.1,1136.9 1165.8,1139.3 1167.7,1141.7 1169.6,1144.0 1171.5,1146.3 1173.6,1148.5 1175.7,1150.6 1178.0,1152.7 1180.3,1154.7 1182.7,1156.6 1185.2,1158.5 1187.8,1160.2 1190.5,1161.8 1193.2,1163.4 1195.9,1164.8 1198.7,1166.1 1201.5,1167.2 1204.3,1168.2 1207.2,1169.1 1210.0,1169.8 1212.9,1170.3 1215.7,1170.6 1218.6,1170.8 1221.4,1170.8 1224.2,1170.6 1226.9,1170.2 1229.7,1169.6 1232.3,1168.9 1235.0,1168.0 1237.6,1166.9 1240.1,1165.7 1242.6,1164.4 1245.0,1162.9 1247.4,1161.3 1249.7,1159.6 1251.9,1157.7 1254.1,1155.7 1256.2,1153.6 1258.2,1151.5 1260.2,1149.2 1262.1,1146.9 1264.1,1144.5 1265.9,1142.1 1267.8,1139.7 1269.6,1137.3 1271.4,1134.8 1273.2,1132.3 1275.0,1129.9 1276.8,1127.4 1278.6,1124.9 1280.4,1122.4 1282.2,1120.0 1283.9,1117.5 1285.7,1115.0 1287.4,1112.5 1289.2,1110.0 1290.9,1107.5 1292.6,1105.0 1294.3,1102.5 1296.0,1100.0 1297.7,1097.4 1299.4,1094.9 1301.0,1092.4 1302.7,1089.8 1304.4,1087.3 1306.0,1084.8 1307.7,1082.2 1309.3,1079.7 1310.9,1077.1 1312.5,1074.6 1314.1,1072.0 1315.7,1069.5 1317.3,1066.9 1318.9,1064.3 1320.5,1061.8 1322.0,1059.2 1323.6,1056.6 1325.2,1054.0 1326.7,1051.4 1328.2,1048.8 1329.8,1046.2 1331.3,1043.6 1332.8,1041.0 1334.3,1038.4 1335.8,1035.8 1337.3,1033.2 1338.8,1030.6 1340.3,1028.0 1341.8,1025.4 1343.2,1022.7 1344.7,1020.1 1346.1,1017.5 1347.6,1014.8 1349.0,1012.2 1350.5,1009.6 1351.9,1006.9 1353.3,1004.3 1354.7,1001.6 1356.1,999.0 1357.5,996.3 1358.9,993.7 1360.3,991.0 1361.7,988.3 1363.1,985.7 1364.4,983.0 1365.8,980.3 1367.2,977.7 1368.5,975.0 1369.9,972.3 1371.2,969.6 1372.5,966.9 1373.9,964.2 1375.2,961.5 1376.5,958.9 1377.8,956.2 1379.1,953.5 1380.4,950.8 1381.7,948.0 1383.0,945.3 1384.3,942.6 1385.6,939.9 1386.9,937.2 1388.1,934.5 1389.4,931.8 1390.7,929.1 1391.9,926.3 1393.2,923.6 1394.4,920.9 1395.6,918.1 1396.9,915.4 1398.1,912.7 1399.3,909.9 1400.6,907.2 1401.8,904.5 1403.0,901.7 1404.2,899.0 1405.4,896.2 1406.6,893.5 1407.8,890.7 1409.0,888.0 1410.2,885.2 1411.4,882.5 1412.6,879.7 1413.7,876.9 1414.9,874.2 1416.1,871.4 1417.3,868.7 1418.4,865.9 1419.6,863.1 1420.7,860.3 1421.9,857.6 1423.0,854.8 1424.2,852.0 1425.3,849.2 1426.5,846.5 1427.6,843.7 1428.7,840.9 1429.9,838.1 1431.0,835.3 1432.1,832.6 1433.2,829.8 1434.4,827.0 1435.5,824.2 1436.6,821.4 1437.7,818.6 1438.8,815.8 1439.9,813.0 1441.0,810.2 1442.1,807.4 1443.2,804.6 1444.3,801.8 1445.4,799.0 1446.5,796.2 1447.6,793.4 1448.7,790.6 1449.7,787.8 1450.8,785.0 1451.9,782.2 1453.0,779.4 1454.1,776.6 1455.1,773.8 1456.2,771.0 1457.3,768.1 1458.3,765.3 1459.4,762.5 1460.5,759.7 1461.5,756.9 1462.6,754.1 1463.7,751.3 1464.7,748.5 1465.8,745.6 1466.8,742.8 1467.9,740.0 1469.0,737.2 1470.0,734.4 1471.1,731.5 1472.1,728.7 1473.2,725.9 1474.2,723.1 1475.3,720.3 1476.3,717.4 1477.4,714.6 1478.4,711.8 1479.5,709.0 1480.5,706.2 1481.6,703.3 1482.6,700.5 1483.7,697.7 1484.7,694.9 1485.8,692.0 1486.8,689.2 1487.9,686.4 1488.9,683.6 1490.0,680.8 1491.0,677.9 1492.1,675.1 1493.1,672.3 1494.2,669.5 1495.2,666.6 1496.3,663.8 1497.3,661.0 1498.4,658.2 1499.4,655.4 1500.5,652.5 1501.5,649.7 1502.6,646.9 1503.6,644.1 1504.7,641.3 1505.8,638.5 1506.8,635.6 1507.9,632.8 1508.9,630.0 1510.0,627.2 1511.1,624.4 1512.1,621.6 1513.2,618.8 1514.3,615.9 1515.4,613.1 1516.4,610.3 1517.5,607.5 1518.6,604.7 1519.7,601.9 1520.8,599.1 1521.9,596.3 1523.0,593.5 1524.1,590.7 1525.2,587.9 1526.3,585.1 1527.4,582.3 1528.5,579.5 1529.6,576.7 1530.7,573.9 1531.8,571.1 1532.9,568.3 1534.0,565.5 1535.2,562.8 1536.3,560.0 1537.4,557.2 1538.6,554.4 1539.7,551.6 1540.9,548.9 1542.0,546.1 1543.2,543.3 1544.3,540.5 1545.5,537.8 1546.6,535.0 1547.8,532.2 1549.0,529.5 1550.2,526.7 1551.3,523.9 1552.5,521.2 1553.7,518.4 1554.9,515.7 1556.1,512.9 1557.3,510.2 1558.5,507.4 1559.7,504.7 1561.0,501.9 1562.2,499.2 1563.4,496.5 1564.6,493.7 1565.9,491.0 1567.1,488.3 1568.4,485.5 1569.7,482.8 1570.9,480.1 1572.2,477.4 1573.5,474.7 1574.7,471.9 1576.0,469.2 1577.3,466.5 1578.6,463.8 1579.9,461.1 1581.2,458.4 1582.6,455.7 1583.9,453.0 1585.2,450.4 1586.6,447.7 1587.9,445.0 1589.3,442.3 1590.6,439.6 1592.0,437.0 1593.4,434.3 1594.7,431.6 1596.1,429.0 1597.5,426.3 1598.9,423.6 1600.3,421.0 1601.8,418.3 1603.2,415.7 1604.6,413.0 1606.0,410.4 1607.5,407.8 1609.0,405.1 1610.4,402.5 1611.9,399.9 1613.4,397.3 1614.9,394.7 1616.4,392.1 1617.9,389.5 1619.4,386.9 1621.0,384.3 1622.5,381.7 1624.1,379.2 1625.7,376.6 1627.3,374.1 1628.9,371.5 1630.5,369.0 1632.1,366.5 1633.8,364.0 1635.5,361.5 1637.2,359.0 1638.9,356.6 1640.6,354.1 1642.4,351.7 1644.1,349.3 1645.9,346.9 1647.8,344.5 1649.6,342.1 1651.4,339.7 1653.3,337.4 1655.2,335.1 1657.1,332.8 1659.1,330.5 1661.1,328.2 1663.1,326.0 1665.1,323.7 1667.1,321.5 1669.2,319.3 1671.3,317.2 1673.4,315.0 1675.5,312.9 1677.7,310.8 1679.8,308.7 1682.0,306.6 1684.2,304.6 1686.5,302.5 1688.7,300.5 1691.0,298.5 1693.3,296.6 1695.6,294.6 1697.9,292.7 1700.3,290.8 1702.6,289.0 1705.0,287.1 1707.4,285.3 1709.9,283.5 1712.3,281.7 1714.8,280.0 1717.2,278.3 1719.7,276.6 1722.2,274.9 1724.7,273.2 1727.3,271.6 1729.8,270.0 1732.4,268.4 1735.0,266.9 1737.6,265.4 1740.2,263.9 1742.8,262.4 1745.5,261.0 1748.1,259.6 1750.8,258.2 1753.4,256.8 1756.1,255.5 1758.8,254.2 1761.6,253.0 1764.3,251.7 1767.0,250.5 1769.8,249.3 1772.5,248.1 1775.3,247.0 1778.1,245.9 1780.9,244.8 1783.7,243.7 1786.5,242.6 1789.3,241.6 1792.1,240.6 1795.0,239.6 1797.8,238.7 1800.6,237.7 1803.5,236.8 1806.4,235.9 1809.2,235.0 1812.1,234.1 1815.0,233.3 1817.9,232.4 1820.8,231.6 1823.7,230.8 1826.6,230.1 1829.5,229.3 1832.4,228.6 1835.3,227.8 1838.2,227.1 1841.1,226.4 1844.1,225.7 1847.0,225.0 1849.9,224.4 1852.9,223.7 1855.8,223.1 1858.7,222.5 1861.7,221.9 1864.6,221.3 1867.6,220.7 1870.5,220.2 1873.5,219.6 1876.4,219.1 1879.4,218.5 1882.3,218.0 1885.3,217.5 1888.3,217.0 1891.2,216.6 1894.2,216.1 1897.2,215.6 1900.1,215.2 1903.1,214.8 1906.1,214.3 1909.1,213.9 1912.0,213.5 1915.0,213.1 1918.0,212.7 1921.0,212.4 1924.0,212.0 1927.0,211.7 1929.9,211.3 1932.9,211.0 1935.9,210.7 1938.9,210.3 1941.9,210.0 1944.9,209.7 1947.9,209.5 1950.9,209.2 1953.9,208.9 1956.9,208.6 1959.9,208.4 1962.9,208.1 1965.9,207.9 1968.9,207.7 1971.9,207.4 1974.9,207.2 1977.9,207.0 1980.9,206.8 1983.9,206.6 1986.9,206.4 1989.9,206.2 1992.9,206.0 1995.9,205.8 1998.9,205.7 2002.0,205.5 2005.0,205.3 2008.0,205.2 2011.0,205.0 2014.0,204.9 2017.0,204.7 2020.0,204.6 2023.0,204.5 2026.0,204.3 2029.0,204.2 2032.0,204.1 2035.0,204.0 2038.0,203.8 2041.0,203.7 2044.0,203.6 2047.0,203.5 2050.0,203.4 2053.0,203.3 2056.0,203.2 2059.0,203.1 2062.0,203.0 2065.0,202.9 2068.0,202.8 2071.0,202.7 2074.0,202.6 2077.0,202.5 2080.0,202.4 2082.9,202.3 2086.0,202.4" stroke="#FF00FF" stroke-width="5"/>
<path d="M476.0,165.8L479.0,166.1 482.0,166.5 485.0,166.8 488.0,167.1 491.0,167.5 494.0,167.8 497.0,168.1 499.9,168.4 502.9,168.7 505.9,169.1 508.9,169.4 511.9,169.7 514.9,170.0 517.9,170.3 520.9,170.6 523.9,170.9 526.8,171.2 529.8,171.5 532.8,171.8 535.8,172.1 538.8,172.4 541.8,172.7 544.8,173.0 547.8,173.3 550.7,173.6 553.7,173.9 556.7,174.2 559.7,174.5 562.7,174.8 565.7,175.1 568.7,175.4 571.6,175.7 574.6,176.0 577.6,176.3 580.6,176.5 583.6,176.8 586.6,177.1 589.6,177.4 592.5,177.7 595.5,178.0 598.5,178.3 601.5,178.6 604.5,178.8 607.5,179.1 610.5,179.4 613.5,179.7 616.4,180.0 619.4,180.3 622.4,180.6 625.4,180.9 628.4,181.1 631.4,181.4 634.4,181.7 637.3,182.0 640.3,182.3 643.3,182.6 646.3,182.9 649.3,183.2 652.3,183.5 655.3,183.8 658.3,184.0 661.3,184.3 664.2,184.6 667.2,184.9 670.2,185.2 673.2,185.5 676.2,185.8 679.2,186.1 682.2,186.4 685.2,186.8 688.2,187.1 691.2,187.4 694.2,187.7 697.2,188.0 700.2,188.3 703.2,188.6 706.1,188.9 709.1,189.3 712.1,189.6 715.1,189.9 718.1,190.3 721.1,190.6 724.1,191.0 727.1,191.4 730.1,191.8 733.0,192.2 736.0,192.7 739.0,193.1 741.9,193.6 744.9,194.2 747.8,194.7 750.8,195.3 753.7,195.9 756.6,196.5 759.5,197.2 762.4,197.9 765.3,198.7 768.2,199.5 771.1,200.3 773.9,201.2 776.8,202.2 779.6,203.1 782.5,204.2 785.3,205.2 788.1,206.4 790.8,207.5 793.6,208.8 796.3,210.0 799.1,211.4 801.8,212.7 804.4,214.1 807.1,215.6 809.7,217.1 812.3,218.7 814.8,220.3 817.4,221.9 819.8,223.6 822.3,225.4 824.7,227.2 827.1,229.0 829.4,230.9 831.8,232.8 834.0,234.8 836.2,236.8 838.4,238.8 840.5,240.9 842.6,243.1 844.7,245.2 846.7,247.5 848.6,249.7 850.5,252.0 852.4,254.3 854.3,256.7 856.1,259.1 857.8,261.5 859.5,264.0 861.2,266.4 862.9,268.9 864.5,271.5 866.1,274.0 867.7,276.6 869.2,279.2 870.7,281.8 872.2,284.4 873.6,287.1 875.1,289.7 876.5,292.4 877.8,295.1 879.2,297.8 880.5,300.5 881.8,303.2 883.1,305.9 884.4,308.6 885.6,311.4 886.8,314.1 888.0,316.9 889.2,319.6 890.4,322.4 891.5,325.2 892.6,328.0 893.7,330.8 894.8,333.6 895.9,336.4 897.0,339.2 898.0,342.0 899.0,344.8 900.0,347.6 901.0,350.5 902.0,353.3 903.0,356.1 904.0,359.0 904.9,361.8 905.9,364.7 906.8,367.5 907.7,370.4 908.6,373.3 909.5,376.1 910.4,379.0 911.3,381.9 912.2,384.8 913.1,387.6 913.9,390.5 914.8,393.4 915.6,396.3 916.5,399.2 917.3,402.0 918.2,404.9 919.0,407.8 919.8,410.7 920.7,413.6 921.5,416.5 922.3,419.4 923.1,422.3 923.9,425.2 924.7,428.1 925.5,431.0 926.3,433.9 927.1,436.7 927.9,439.6 928.7,442.5 929.5,445.4 930.3,448.3 931.1,451.2 931.8,454.2 932.6,457.1 933.4,460.0 934.1,462.9 934.9,465.8 935.7,468.7 936.4,471.6 937.2,474.5 937.9,477.4 938.6,480.3 939.4,483.2 940.1,486.1 940.9,489.0 941.6,492.0 942.3,494.9 943.0,497.8 943.8,500.7 944.5,503.6 945.2,506.5 945.9,509.4 946.6,512.4 947.3,515.3 948.0,518.2 948.7,521.1 949.4,524.0 950.1,527.0 950.8,529.9 951.5,532.8 952.2,535.7 952.9,538.6 953.6,541.6 954.3,544.5 955.0,547.4 955.6,550.3 956.3,553.3 957.0,556.2 957.7,559.1 958.3,562.0 959.0,565.0 959.7,567.9 960.3,570.8 961.0,573.8 961.7,576.7 962.3,579.6 963.0,582.5 963.6,585.5 964.3,588.4 964.9,591.3 965.6,594.3 966.2,597.2 966.9,600.1 967.5,603.1 968.2,606.0 968.8,608.9 969.5,611.9 970.1,614.8 970.8,617.7 971.4,620.7 972.0,623.6 972.7,626.5 973.3,629.5 973.9,632.4 974.6,635.3 975.2,638.3 975.8,641.2 976.5,644.2 977.1,647.1 977.7,650.0 978.4,653.0 979.0,655.9 979.6,658.8 980.2,661.8 980.9,664.7 981.5,667.7 982.1,670.6 982.8,673.5 983.4,676.5 984.0,679.4 984.6,682.3 985.3,685.3 985.9,688.2 986.5,691.2 987.1,694.1 987.7,697.0 988.4,700.0 989.0,702.9 989.6,705.8 990.2,708.8 990.9,711.7 991.5,714.7 992.1,717.6 992.7,720.5 993.4,723.5 994.0,726.4 994.6,729.4 995.2,732.3 995.9,735.2 996.5,738.2 997.1,741.1 997.7,744.0 998.4,747.0 999.0,749.9 999.6,752.8 1000.2,755.8 1000.9,758.7 1001.5,761.7 1002.1,764.6 1002.8,767.5 1003.4,770.5 1004.0,773.4 1004.7,776.3 1005.3,779.3 1006.0,782.2 1006.6,785.1 1007.2,788.1 1007.9,791.0 1008.5,793.9 1009.2,796.9 1009.8,799.8 1010.5,802.7 1011.1,805.7 1011.8,808.6 1012.4,811.5 1013.1,814.5 1013.7,817.4 1014.4,820.3 1015.0,823.3 1015.7,826.2 1016.3,829.1 1017.0,832.0 1017.7,835.0 1018.3,837.9 1019.0,840.8 1019.7,843.8 1020.4,846.7 1021.0,849.6 1021.7,852.5 1022.4,855.5 1023.1,858.4 1023.8,861.3 1024.4,864.2 1025.1,867.1 1025.8,870.1 1026.5,873.0 1027.2,875.9 1027.9,878.8 1028.6,881.8 1029.3,884.7 1030.0,887.6 1030.7,890.5 1031.4,893.4 1032.1,896.3 1032.9,899.3 1033.6,902.2 1034.3,905.1 1035.0,908.0 1035.8,910.9 1036.5,913.8 1037.2,916.7 1038.0,919.6 1038.7,922.6 1039.4,925.5 1040.2,928.4 1040.9,931.3 1041.7,934.2 1042.4,937.1 1043.2,940.0 1044.0,942.9 1044.7,945.8 1045.5,948.7 1046.3,951.6 1047.0,954.5 1047.8,957.4 1048.6,960.3 1049.4,963.2 1050.2,966.1 1051.0,969.0 1051.8,971.9 1052.6,974.8 1053.4,977.7 1054.2,980.6 1055.0,983.5 1055.8,986.4 1056.7,989.3 1057.5,992.1 1058.3,995.0 1059.1,997.9 1060.0,1000.8 1060.8,1003.7 1061.7,1006.6 1062.5,1009.5 1063.4,1012.3 1064.2,1015.2 1065.1,1018.1 1066.0,1021.0 1066.9,1023.9 1067.7,1026.7 1068.6,1029.6 1069.5,1032.5 1070.4,1035.4 1071.3,1038.2 1072.2,1041.1 1073.1,1044.0 1074.0,1046.8 1074.9,1049.7 1075.9,1052.6 1076.8,1055.4 1077.8,1058.3 1078.7,1061.1 1079.7,1064.0 1080.7,1066.8 1081.7,1069.6 1082.8,1072.5 1083.8,1075.3 1084.9,1078.1 1086.0,1080.9 1087.1,1083.7 1088.2,1086.4 1089.4,1089.2 1090.6,1092.0 1091.8,1094.7 1093.0,1097.4 1094.3,1100.2 1095.6,1102.9 1097.0,1105.6 1098.3,1108.2 1099.7,1110.9 1101.2,1113.6 1102.6,1116.2 1104.2,1118.8 1105.7,1121.4 1107.3,1124.0 1108.9,1126.5 1110.6,1129.1 1112.3,1131.6 1114.1,1134.1 1115.9,1136.6 1117.8,1139.1 1119.7,1141.5 1121.6,1143.9 1123.6,1146.3 1125.7,1148.6 1127.8,1150.9 1130.0,1153.2 1132.2,1155.3 1134.4,1157.3 1136.7,1159.3 1139.0,1161.1 1141.4,1162.8 1143.9,1164.4 1146.3,1165.8 1148.8,1167.0 1151.4,1168.1 1154.0,1169.0 1156.7,1169.6 1159.3,1170.1 1162.1,1170.3 1164.8,1170.3 1167.6,1170.1 1170.4,1169.6 1173.2,1168.9 1176.0,1168.1 1178.8,1167.1 1181.5,1165.9 1184.1,1164.5 1186.6,1163.0 1189.1,1161.4 1191.5,1159.7 1193.9,1157.8 1196.2,1155.8 1198.4,1153.8 1200.6,1151.6 1202.7,1149.4 1204.8,1147.1 1206.8,1144.7 1208.8,1142.3 1210.8,1139.8 1212.7,1137.3 1214.6,1134.7 1216.4,1132.1 1218.3,1129.5 1220.1,1126.9 1221.9,1124.3 1223.7,1121.7 1225.4,1119.2 1227.2,1116.6 1228.9,1114.0 1230.6,1111.5 1232.3,1108.9 1234.0,1106.4 1235.7,1103.9 1237.4,1101.4 1239.1,1098.9 1240.7,1096.4 1242.4,1093.9 1244.0,1091.4 1245.6,1088.9 1247.2,1086.4 1248.8,1083.9 1250.4,1081.4 1252.0,1078.9 1253.5,1076.4 1255.1,1073.9 1256.6,1071.4 1258.1,1068.9 1259.7,1066.3 1261.2,1063.8 1262.7,1061.3 1264.2,1058.7 1265.6,1056.2 1267.1,1053.6 1268.6,1051.0 1270.0,1048.5 1271.4,1045.9 1272.9,1043.3 1274.3,1040.7 1275.7,1038.1 1277.1,1035.5 1278.5,1032.8 1279.9,1030.2 1281.3,1027.6 1282.6,1024.9 1284.0,1022.3 1285.4,1019.6 1286.7,1016.9 1288.1,1014.3 1289.4,1011.6 1290.7,1008.9 1292.1,1006.2 1293.4,1003.5 1294.7,1000.8 1296.0,998.1 1297.3,995.4 1298.6,992.7 1299.9,990.0 1301.2,987.3 1302.5,984.5 1303.8,981.8 1305.1,979.1 1306.4,976.4 1307.6,973.6 1308.9,970.9 1310.2,968.1 1311.5,965.4 1312.7,962.7 1314.0,959.9 1315.2,957.2 1316.5,954.4 1317.8,951.7 1319.0,948.9 1320.3,946.2 1321.5,943.4 1322.8,940.7 1324.1,937.9 1325.3,935.1 1326.6,932.4 1327.8,929.6 1329.1,926.9 1330.3,924.1 1331.6,921.4 1332.9,918.6 1334.1,915.9 1335.4,913.1 1336.7,910.4 1337.9,907.6 1339.2,904.9 1340.5,902.2 1341.8,899.4 1343.0,896.7 1344.3,894.0 1345.6,891.2 1346.9,888.5 1348.2,885.8 1349.5,883.1 1350.8,880.4 1352.1,877.6 1353.4,874.9 1354.7,872.2 1356.0,869.5 1357.3,866.8 1358.7,864.1 1360.0,861.4 1361.3,858.7 1362.6,856.0 1364.0,853.3 1365.3,850.6 1366.6,847.9 1368.0,845.3 1369.3,842.6 1370.7,839.9 1372.0,837.2 1373.4,834.5 1374.7,831.9 1376.1,829.2 1377.4,826.5 1378.8,823.8 1380.2,821.2 1381.5,818.5 1382.9,815.9 1384.3,813.2 1385.6,810.5 1387.0,807.9 1388.4,805.2 1389.8,802.6 1391.2,799.9 1392.6,797.3 1394.0,794.6 1395.4,792.0 1396.8,789.3 1398.2,786.7 1399.6,784.1 1401.0,781.4 1402.4,778.8 1403.8,776.2 1405.2,773.5 1406.7,770.9 1408.1,768.3 1409.5,765.6 1410.9,763.0 1412.4,760.4 1413.8,757.8 1415.2,755.1 1416.7,752.5 1418.1,749.9 1419.6,747.3 1421.0,744.7 1422.5,742.1 1423.9,739.4 1425.4,736.8 1426.8,734.2 1428.3,731.6 1429.8,729.0 1431.2,726.4 1432.7,723.8 1434.2,721.2 1435.6,718.6 1437.1,716.0 1438.6,713.4 1440.1,710.8 1441.6,708.2 1443.1,705.6 1444.6,703.0 1446.0,700.4 1447.5,697.8 1449.0,695.2 1450.5,692.6 1452.0,690.1 1453.5,687.5 1455.1,684.9 1456.6,682.3 1458.1,679.7 1459.6,677.1 1461.1,674.5 1462.6,672.0 1464.2,669.4 1465.7,666.8 1467.2,664.2 1468.7,661.6 1470.3,659.1 1471.8,656.5 1473.4,653.9 1474.9,651.3 1476.4,648.8 1478.0,646.2 1479.5,643.6 1481.1,641.0 1482.6,638.5 1484.2,635.9 1485.7,633.3 1487.3,630.7 1488.9,628.2 1490.4,625.6 1492.0,623.0 1493.6,620.5 1495.1,617.9 1496.7,615.3 1498.3,612.7 1499.9,610.2 1501.5,607.6 1503.0,605.0 1504.6,602.5 1506.2,599.9 1507.8,597.3 1509.4,594.8 1511.0,592.2 1512.6,589.6 1514.2,587.1 1515.8,584.5 1517.4,581.9 1519.0,579.4 1520.6,576.8 1522.2,574.3 1523.9,571.7 1525.5,569.2 1527.1,566.6 1528.7,564.1 1530.4,561.5 1532.0,559.0 1533.7,556.4 1535.3,553.9 1537.0,551.4 1538.6,548.8 1540.3,546.3 1542.0,543.8 1543.7,541.3 1545.3,538.8 1547.0,536.3 1548.7,533.8 1550.4,531.3 1552.1,528.8 1553.9,526.3 1555.6,523.8 1557.3,521.3 1559.0,518.8 1560.8,516.4 1562.5,513.9 1564.3,511.5 1566.1,509.0 1567.8,506.6 1569.6,504.2 1571.4,501.7 1573.2,499.3 1575.0,496.9 1576.8,494.5 1578.6,492.1 1580.5,489.7 1582.3,487.3 1584.1,485.0 1586.0,482.6 1587.9,480.2 1589.7,477.9 1591.6,475.6 1593.5,473.2 1595.4,470.9 1597.3,468.6 1599.3,466.3 1601.2,464.0 1603.2,461.7 1605.1,459.5 1607.1,457.2 1609.1,455.0 1611.0,452.7 1613.0,450.5 1615.1,448.3 1617.1,446.1 1619.1,443.9 1621.2,441.7 1623.2,439.5 1625.3,437.4 1627.4,435.2 1629.5,433.1 1631.6,431.0 1633.7,428.9 1635.8,426.8 1638.0,424.7 1640.2,422.6 1642.3,420.6 1644.5,418.5 1646.7,416.5 1648.9,414.5 1651.2,412.5 1653.4,410.5 1655.7,408.5 1657.9,406.6 1660.2,404.6 1662.5,402.7 1664.8,400.8 1667.1,398.9 1669.5,397.0 1671.8,395.2 1674.2,393.3 1676.6,391.5 1679.0,389.7 1681.4,387.9 1683.8,386.1 1686.2,384.4 1688.7,382.6 1691.1,380.9 1693.6,379.2 1696.1,377.5 1698.6,375.8 1701.1,374.2 1703.6,372.6 1706.2,370.9 1708.7,369.4 1711.3,367.8 1713.8,366.2 1716.4,364.7 1719.0,363.2 1721.6,361.7 1724.2,360.2 1726.8,358.8 1729.5,357.4 1732.1,356.0 1734.8,354.6 1737.5,353.2 1740.1,351.9 1742.8,350.6 1745.5,349.3 1748.3,348.1 1751.0,346.8 1753.7,345.6 1756.5,344.4 1759.2,343.2 1762.0,342.1 1764.8,341.0 1767.5,339.9 1770.3,338.8 1773.1,337.8 1775.9,336.8 1778.8,335.8 1781.6,334.8 1784.4,333.9 1787.3,333.0 1790.2,332.1 1793.0,331.2 1795.9,330.4 1798.8,329.6 1801.7,328.8 1804.6,328.1 1807.5,327.4 1810.4,326.7 1813.4,326.0 1816.3,325.4 1819.2,324.8 1822.2,324.2 1825.1,323.7 1828.1,323.2 1831.1,322.6 1834.1,322.2 1837.0,321.7 1840.0,321.2 1843.0,320.8 1846.0,320.4 1849.0,320.0 1852.0,319.7 1855.0,319.3 1858.0,319.0 1861.0,318.6 1864.1,318.3 1867.1,318.0 1870.1,317.7 1873.1,317.4 1876.1,317.2 1879.2,316.9 1882.2,316.6 1885.2,316.4 1888.2,316.2 1891.2,315.9 1894.3,315.7 1897.3,315.5 1900.3,315.3 1903.3,315.0 1906.3,314.8 1909.3,314.6 1912.4,314.4 1915.4,314.2 1918.4,313.9 1921.4,313.7 1924.4,313.5 1927.3,313.3 1930.3,313.0 1933.3,312.8 1936.3,312.6 1939.3,312.4 1942.3,312.1 1945.2,311.9 1948.2,311.7 1951.2,311.5 1954.2,311.2 1957.1,311.0 1960.1,310.8 1963.1,310.6 1966.1,310.3 1969.0,310.1 1972.0,309.9 1975.0,309.7 1977.9,309.5 1980.9,309.3 1983.9,309.1 1986.8,308.9 1989.8,308.7 1992.8,308.5 1995.7,308.3 1998.7,308.1 2001.7,308.0 2004.7,307.8 2007.6,307.6 2010.6,307.5 2013.6,307.3 2016.6,307.2 2019.6,307.0 2022.5,306.9 2025.5,306.8 2028.5,306.6 2031.5,306.5 2034.5,306.4 2037.5,306.3 2040.5,306.2 2043.5,306.1 2046.5,306.0 2049.5,306.0 2052.6,305.9 2055.6,305.9 2058.6,305.8 2061.6,305.8 2064.7,305.7 2067.7,305.7 2070.7,305.7 2073.8,305.7 2076.8,305.7 2079.9,305.8 2083.0,305.8 2086.0,305.8" stroke="#FF8000" stroke-width="5"/>
<path d="M476.0,170.7L479.1,171.2 482.1,171.7 485.2,172.2 488.3,172.6 491.3,173.1 494.4,173.5 497.4,174.0 500.4,174.4 503.4,174.8 506.5,175.2 509.5,175.6 512.5,176.0 515.5,176.4 518.5,176.7 521.5,177.1 524.5,177.5 527.5,177.8 530.5,178.1 533.5,178.5 536.4,178.8 539.4,179.1 542.4,179.5 545.4,179.8 548.3,180.1 551.3,180.4 554.2,180.7 557.2,181.0 560.2,181.2 563.1,181.5 566.1,181.8 569.0,182.1 572.0,182.4 574.9,182.6 577.9,182.9 580.8,183.2 583.8,183.4 586.7,183.7 589.6,184.0 592.6,184.2 595.5,184.5 598.5,184.8 601.4,185.0 604.4,185.3 607.3,185.6 610.2,185.8 613.2,186.1 616.1,186.4 619.1,186.6 622.0,186.9 625.0,187.2 627.9,187.5 630.9,187.7 633.8,188.0 636.8,188.3 639.7,188.6 642.7,188.9 645.7,189.2 648.6,189.5 651.6,189.8 654.6,190.1 657.5,190.5 660.5,190.8 663.5,191.1 666.5,191.5 669.5,191.8 672.5,192.2 675.5,192.5 678.5,192.9 681.5,193.3 684.5,193.7 687.5,194.1 690.5,194.5 693.5,194.9 696.6,195.3 699.6,195.8 702.7,196.2 705.7,196.7 708.7,197.1 711.8,197.6 714.8,198.1 717.9,198.6 720.9,199.2 724.0,199.8 727.0,200.4 730.0,201.0 733.0,201.7 736.0,202.4 738.9,203.1 741.9,203.9 744.8,204.7 747.7,205.6 750.5,206.5 753.4,207.5 756.2,208.5 758.9,209.6 761.7,210.7 764.4,211.9 767.0,213.1 769.6,214.4 772.2,215.8 774.8,217.3 777.2,218.8 779.7,220.4 782.0,222.1 784.4,223.8 786.7,225.6 788.9,227.5 791.1,229.4 793.2,231.4 795.3,233.5 797.4,235.6 799.4,237.8 801.3,240.0 803.3,242.3 805.2,244.6 807.0,247.0 808.8,249.4 810.6,251.8 812.4,254.3 814.1,256.8 815.8,259.3 817.4,261.9 819.1,264.5 820.7,267.1 822.3,269.7 823.8,272.4 825.4,275.0 826.9,277.7 828.4,280.3 829.8,283.0 831.3,285.7 832.7,288.4 834.1,291.1 835.5,293.8 836.9,296.5 838.3,299.2 839.6,301.9 841.0,304.6 842.3,307.4 843.6,310.1 844.8,312.8 846.1,315.6 847.3,318.3 848.5,321.1 849.8,323.8 850.9,326.6 852.1,329.4 853.3,332.1 854.4,334.9 855.6,337.7 856.7,340.5 857.8,343.3 858.9,346.1 860.0,348.9 861.0,351.7 862.1,354.5 863.1,357.3 864.1,360.1 865.1,362.9 866.1,365.8 867.1,368.6 868.1,371.4 869.0,374.3 870.0,377.1 870.9,379.9 871.9,382.8 872.8,385.6 873.7,388.5 874.6,391.4 875.5,394.2 876.4,397.1 877.2,399.9 878.1,402.8 878.9,405.7 879.8,408.6 880.6,411.4 881.4,414.3 882.2,417.2 883.1,420.1 883.9,423.0 884.6,425.8 885.4,428.7 886.2,431.6 887.0,434.5 887.8,437.4 888.5,440.3 889.3,443.2 890.0,446.1 890.8,449.0 891.5,451.9 892.2,454.8 893.0,457.7 893.7,460.7 894.4,463.6 895.1,466.5 895.8,469.4 896.6,472.3 897.3,475.2 898.0,478.1 898.7,481.1 899.4,484.0 900.1,486.9 900.8,489.8 901.5,492.7 902.1,495.7 902.8,498.6 903.5,501.5 904.2,504.4 904.9,507.3 905.6,510.3 906.3,513.2 907.0,516.1 907.6,519.0 908.3,522.0 909.0,524.9 909.7,527.8 910.4,530.7 911.1,533.7 911.7,536.6 912.4,539.5 913.1,542.4 913.8,545.4 914.4,548.3 915.1,551.2 915.8,554.1 916.5,557.1 917.1,560.0 917.8,562.9 918.5,565.8 919.2,568.8 919.8,571.7 920.5,574.6 921.2,577.6 921.8,580.5 922.5,583.4 923.2,586.3 923.8,589.3 924.5,592.2 925.2,595.1 925.8,598.1 926.5,601.0 927.1,603.9 927.8,606.9 928.5,609.8 929.1,612.7 929.8,615.6 930.4,618.6 931.1,621.5 931.8,624.4 932.4,627.4 933.1,630.3 933.7,633.2 934.4,636.2 935.0,639.1 935.7,642.0 936.3,645.0 937.0,647.9 937.6,650.8 938.3,653.8 938.9,656.7 939.6,659.7 940.2,662.6 940.9,665.5 941.5,668.5 942.1,671.4 942.8,674.3 943.4,677.3 944.1,680.2 944.7,683.1 945.4,686.1 946.0,689.0 946.6,692.0 947.3,694.9 947.9,697.8 948.6,700.8 949.2,703.7 949.8,706.6 950.5,709.6 951.1,712.5 951.7,715.5 952.4,718.4 953.0,721.3 953.6,724.3 954.3,727.2 954.9,730.1 955.5,733.1 956.2,736.0 956.8,739.0 957.4,741.9 958.0,744.8 958.7,747.8 959.3,750.7 959.9,753.7 960.5,756.6 961.2,759.5 961.8,762.5 962.4,765.4 963.0,768.4 963.7,771.3 964.3,774.3 964.9,777.2 965.5,780.1 966.1,783.1 966.8,786.0 967.4,789.0 968.0,791.9 968.6,794.8 969.2,797.8 969.8,800.7 970.5,803.7 971.1,806.6 971.7,809.6 972.3,812.5 972.9,815.4 973.5,818.4 974.1,821.3 974.8,824.3 975.4,827.2 976.0,830.1 976.6,833.1 977.2,836.0 977.9,839.0 978.5,841.9 979.1,844.9 979.7,847.8 980.3,850.7 981.0,853.7 981.6,856.6 982.2,859.5 982.9,862.5 983.5,865.4 984.1,868.3 984.8,871.3 985.4,874.2 986.1,877.2 986.7,880.1 987.3,883.0 988.0,885.9 988.7,888.9 989.3,891.8 990.0,894.7 990.6,897.7 991.3,900.6 992.0,903.5 992.7,906.4 993.4,909.3 994.0,912.3 994.7,915.2 995.4,918.1 996.1,921.0 996.8,923.9 997.6,926.9 998.3,929.8 999.0,932.7 999.7,935.6 1000.4,938.5 1001.2,941.4 1001.9,944.3 1002.7,947.2 1003.4,950.1 1004.2,953.0 1005.0,955.9 1005.7,958.8 1006.5,961.7 1007.3,964.6 1008.1,967.5 1008.9,970.4 1009.7,973.3 1010.5,976.1 1011.3,979.0 1012.2,981.9 1013.0,984.8 1013.9,987.7 1014.7,990.5 1015.6,993.4 1016.4,996.3 1017.3,999.1 1018.2,1002.0 1019.1,1004.9 1020.0,1007.7 1020.9,1010.6 1021.8,1013.4 1022.8,1016.3 1023.7,1019.1 1024.7,1022.0 1025.6,1024.8 1026.6,1027.7 1027.6,1030.5 1028.6,1033.3 1029.6,1036.2 1030.6,1039.0 1031.6,1041.8 1032.6,1044.7 1033.6,1047.5 1034.7,1050.3 1035.8,1053.1 1036.8,1055.9 1037.9,1058.7 1039.0,1061.6 1040.1,1064.4 1041.2,1067.2 1042.3,1070.0 1043.5,1072.8 1044.6,1075.5 1045.8,1078.3 1047.0,1081.1 1048.2,1083.9 1049.4,1086.7 1050.6,1089.4 1051.8,1092.2 1053.1,1094.9 1054.4,1097.7 1055.7,1100.4 1057.0,1103.1 1058.4,1105.8 1059.7,1108.5 1061.2,1111.1 1062.6,1113.8 1064.1,1116.4 1065.6,1119.0 1067.1,1121.6 1068.7,1124.1 1070.3,1126.7 1071.9,1129.2 1073.6,1131.6 1075.4,1134.1 1077.1,1136.5 1079.0,1138.9 1080.8,1141.2 1082.7,1143.6 1084.7,1145.8 1086.7,1148.1 1088.8,1150.3 1090.9,1152.5 1093.1,1154.6 1095.3,1156.7 1097.6,1158.7 1099.9,1160.7 1102.3,1162.5 1104.8,1164.3 1107.3,1165.9 1109.8,1167.3 1112.5,1168.5 1115.1,1169.5 1117.8,1170.2 1120.6,1170.7 1123.4,1170.9 1126.3,1170.8 1129.1,1170.4 1131.9,1169.8 1134.6,1169.0 1137.3,1168.0 1140.0,1166.7 1142.6,1165.3 1145.1,1163.8 1147.6,1162.1 1150.0,1160.2 1152.5,1158.3 1154.8,1156.2 1157.2,1154.0 1159.4,1151.8 1161.7,1149.5 1163.9,1147.2 1166.1,1144.8 1168.3,1142.4 1170.4,1140.1 1172.5,1137.7 1174.5,1135.4 1176.6,1133.0 1178.6,1130.7 1180.6,1128.5 1182.5,1126.2 1184.5,1123.9 1186.4,1121.6 1188.3,1119.3 1190.1,1117.0 1192.0,1114.7 1193.8,1112.4 1195.5,1110.0 1197.3,1107.6 1199.0,1105.2 1200.8,1102.8 1202.5,1100.4 1204.1,1098.0 1205.8,1095.5 1207.4,1093.0 1209.0,1090.5 1210.6,1088.0 1212.2,1085.5 1213.8,1083.0 1215.3,1080.5 1216.8,1077.9 1218.3,1075.3 1219.8,1072.8 1221.3,1070.2 1222.8,1067.6 1224.2,1065.0 1225.6,1062.4 1227.1,1059.7 1228.5,1057.1 1229.9,1054.4 1231.3,1051.8 1232.6,1049.1 1234.0,1046.5 1235.4,1043.8 1236.7,1041.1 1238.1,1038.4 1239.4,1035.7 1240.7,1033.0 1242.0,1030.3 1243.3,1027.6 1244.7,1024.9 1246.0,1022.2 1247.3,1019.5 1248.5,1016.7 1249.8,1014.0 1251.1,1011.3 1252.4,1008.5 1253.7,1005.8 1255.0,1003.1 1256.3,1000.4 1257.5,997.6 1258.8,994.9 1260.1,992.2 1261.4,989.5 1262.7,986.7 1264.0,984.0 1265.2,981.3 1266.5,978.5 1267.8,975.8 1269.1,973.1 1270.4,970.4 1271.7,967.6 1272.9,964.9 1274.2,962.2 1275.5,959.5 1276.8,956.8 1278.1,954.0 1279.4,951.3 1280.7,948.6 1281.9,945.9 1283.2,943.2 1284.5,940.4 1285.8,937.7 1287.1,935.0 1288.4,932.3 1289.7,929.6 1291.0,926.9 1292.3,924.1 1293.5,921.4 1294.8,918.7 1296.1,916.0 1297.4,913.3 1298.7,910.6 1300.0,907.9 1301.3,905.2 1302.6,902.4 1303.9,899.7 1305.2,897.0 1306.5,894.3 1307.8,891.6 1309.1,888.9 1310.4,886.2 1311.7,883.5 1313.0,880.8 1314.3,878.1 1315.7,875.4 1317.0,872.7 1318.3,870.0 1319.6,867.3 1320.9,864.6 1322.2,861.9 1323.5,859.2 1324.9,856.5 1326.2,853.8 1327.5,851.1 1328.8,848.4 1330.1,845.7 1331.5,843.0 1332.8,840.3 1334.1,837.6 1335.4,835.0 1336.8,832.3 1338.1,829.6 1339.4,826.9 1340.8,824.2 1342.1,821.5 1343.5,818.8 1344.8,816.2 1346.1,813.5 1347.5,810.8 1348.8,808.1 1350.2,805.4 1351.5,802.8 1352.9,800.1 1354.2,797.4 1355.6,794.7 1356.9,792.1 1358.3,789.4 1359.7,786.7 1361.0,784.0 1362.4,781.4 1363.8,778.7 1365.1,776.0 1366.5,773.4 1367.9,770.7 1369.3,768.0 1370.6,765.4 1372.0,762.7 1373.4,760.1 1374.8,757.4 1376.2,754.7 1377.6,752.1 1379.0,749.4 1380.3,746.8 1381.7,744.1 1383.1,741.5 1384.5,738.8 1386.0,736.2 1387.4,733.5 1388.8,730.9 1390.2,728.2 1391.6,725.6 1393.0,722.9 1394.4,720.3 1395.9,717.7 1397.3,715.0 1398.7,712.4 1400.1,709.8 1401.6,707.1 1403.0,704.5 1404.5,701.8 1405.9,699.2 1407.3,696.6 1408.8,694.0 1410.2,691.3 1411.7,688.7 1413.2,686.1 1414.6,683.5 1416.1,680.8 1417.5,678.2 1419.0,675.6 1420.5,673.0 1422.0,670.4 1423.4,667.8 1424.9,665.2 1426.4,662.5 1427.9,659.9 1429.4,657.3 1430.9,654.7 1432.4,652.1 1433.9,649.5 1435.4,646.9 1436.9,644.4 1438.5,641.8 1440.0,639.2 1441.5,636.6 1443.0,634.0 1444.6,631.4 1446.1,628.8 1447.7,626.3 1449.2,623.7 1450.8,621.1 1452.3,618.6 1453.9,616.0 1455.5,613.4 1457.0,610.9 1458.6,608.3 1460.2,605.8 1461.8,603.2 1463.4,600.7 1465.0,598.1 1466.6,595.6 1468.2,593.1 1469.8,590.5 1471.4,588.0 1473.0,585.5 1474.7,583.0 1476.3,580.4 1477.9,577.9 1479.6,575.4 1481.2,572.9 1482.9,570.4 1484.5,567.9 1486.2,565.4 1487.9,562.9 1489.6,560.4 1491.2,557.9 1492.9,555.5 1494.6,553.0 1496.3,550.5 1498.0,548.0 1499.8,545.6 1501.5,543.1 1503.2,540.6 1505.0,538.2 1506.7,535.7 1508.4,533.3 1510.2,530.9 1512.0,528.4 1513.7,526.0 1515.5,523.6 1517.3,521.2 1519.1,518.7 1520.9,516.3 1522.7,513.9 1524.5,511.5 1526.3,509.1 1528.1,506.7 1529.9,504.3 1531.8,502.0 1533.6,499.6 1535.5,497.2 1537.3,494.8 1539.2,492.5 1541.1,490.1 1543.0,487.8 1544.9,485.4 1546.8,483.1 1548.7,480.8 1550.6,478.4 1552.5,476.1 1554.4,473.8 1556.4,471.5 1558.3,469.2 1560.3,466.9 1562.2,464.6 1564.2,462.3 1566.2,460.0 1568.2,457.7 1570.1,455.5 1572.1,453.2 1574.2,450.9 1576.2,448.7 1578.2,446.4 1580.2,444.2 1582.3,442.0 1584.3,439.7 1586.4,437.5 1588.5,435.3 1590.6,433.1 1592.7,430.9 1594.8,428.8 1596.9,426.6 1599.0,424.5 1601.2,422.3 1603.3,420.2 1605.5,418.1 1607.6,416.0 1609.8,413.9 1612.0,411.9 1614.2,409.8 1616.5,407.8 1618.7,405.8 1621.0,403.8 1623.2,401.8 1625.5,399.9 1627.8,397.9 1630.1,396.0 1632.4,394.1 1634.7,392.3 1637.1,390.4 1639.5,388.6 1641.8,386.8 1644.2,385.0 1646.6,383.3 1649.1,381.5 1651.5,379.8 1654.0,378.2 1656.4,376.5 1658.9,374.9 1661.4,373.3 1664.0,371.8 1666.5,370.2 1669.0,368.7 1671.6,367.2 1674.2,365.8 1676.8,364.3 1679.4,362.9 1682.0,361.6 1684.7,360.2 1687.4,358.9 1690.0,357.6 1692.7,356.3 1695.4,355.0 1698.1,353.8 1700.8,352.6 1703.6,351.4 1706.3,350.2 1709.1,349.1 1711.8,348.0 1714.6,346.9 1717.4,345.8 1720.2,344.8 1723.0,343.7 1725.8,342.7 1728.7,341.7 1731.5,340.8 1734.4,339.8 1737.2,338.9 1740.1,338.0 1743.0,337.1 1745.9,336.2 1748.7,335.4 1751.6,334.5 1754.5,333.7 1757.5,332.9 1760.4,332.1 1763.3,331.3 1766.2,330.6 1769.2,329.9 1772.1,329.1 1775.1,328.4 1778.0,327.8 1781.0,327.1 1783.9,326.4 1786.9,325.8 1789.9,325.2 1792.8,324.5 1795.8,323.9 1798.8,323.4 1801.8,322.8 1804.7,322.2 1807.7,321.7 1810.7,321.1 1813.7,320.6 1816.7,320.1 1819.7,319.6 1822.7,319.1 1825.7,318.6 1828.6,318.2 1831.6,317.7 1834.6,317.3 1837.6,316.8 1840.6,316.4 1843.6,316.0 1846.6,315.6 1849.6,315.2 1852.6,314.8 1855.5,314.4 1858.5,314.0 1861.5,313.7 1864.5,313.3 1867.5,313.0 1870.5,312.6 1873.4,312.3 1876.4,312.0 1879.4,311.7 1882.4,311.4 1885.4,311.1 1888.3,310.8 1891.3,310.5 1894.3,310.3 1897.3,310.0 1900.3,309.8 1903.2,309.5 1906.2,309.3 1909.2,309.0 1912.2,308.8 1915.1,308.6 1918.1,308.4 1921.1,308.2 1924.1,308.0 1927.1,307.8 1930.0,307.6 1933.0,307.5 1936.0,307.3 1939.0,307.1 1942.0,307.0 1944.9,306.9 1947.9,306.7 1950.9,306.6 1953.9,306.5 1956.9,306.3 1959.8,306.2 1962.8,306.1 1965.8,306.0 1968.8,305.9 1971.8,305.9 1974.8,305.8 1977.8,305.7 1980.8,305.6 1983.7,305.6 1986.7,305.5 1989.7,305.5 1992.7,305.4 1995.7,305.4 1998.7,305.3 2001.7,305.3 2004.7,305.3 2007.7,305.3 2010.7,305.3 2013.7,305.3 2016.7,305.3 2019.7,305.3 2022.7,305.3 2025.7,305.3 2028.7,305.3 2031.7,305.3 2034.7,305.3 2037.8,305.4 2040.8,305.4 2043.8,305.4 2046.8,305.5 2049.8,305.5 2052.9,305.6 2055.9,305.6 2058.9,305.7 2061.9,305.7 2065.0,305.8 2068.0,305.9 2071.0,305.9 2074.1,306.0 2077.1,306.1 2080.1,306.2 2083.2,306.2 2086.0,306.8" stroke="#800080" stroke-width="5"/>
</g>
<rect x="476" y="76" width="1610" height="1175" fill="none" stroke="#000" stroke-width="4.5"/>
<line x1="676.8" y1="1251" x2="676.8" y2="1276" stroke="#000" stroke-width="4.5" />
<line x1="1079.4" y1="1251" x2="1079.4" y2="1276" stroke="#000" stroke-width="4.5" />
<line x1="1482" y1="1251" x2="1482" y2="1276" stroke="#000" stroke-width="4.5" />
<line x1="1884.6" y1="1251" x2="1884.6" y2="1276" stroke="#000" stroke-width="4.5" />
<line x1="878.1" y1="1251" x2="878.1" y2="1263.5" stroke="#000" stroke-width="4.5" />
<line x1="1280.7" y1="1251" x2="1280.7" y2="1263.5" stroke="#000" stroke-width="4.5" />
<line x1="1683.3" y1="1251" x2="1683.3" y2="1263.5" stroke="#000" stroke-width="4.5" />
<line x1="476" y1="1251" x2="476" y2="1263.5" stroke="#000" stroke-width="4.5" />
<line x1="2086" y1="1251" x2="2086" y2="1263.5" stroke="#000" stroke-width="4.5" />
<text transform="translate(676.8 1350.5) scale(1 1.041)" font-size="77" text-anchor="middle">16</text>
<text transform="translate(1079.4 1350.5) scale(1 1.041)" font-size="77" text-anchor="middle">18</text>
<text transform="translate(1482 1350.5) scale(1 1.041)" font-size="77" text-anchor="middle">20</text>
<text transform="translate(1884.6 1350.5) scale(1 1.041)" font-size="77" text-anchor="middle">22</text>
<text transform="translate(331 145) scale(1 1.041)" font-size="105" text-anchor="start">a)</text>
<text transform="translate(414.5 858.9) rotate(-90) scale(1 1.041)" font-size="104" text-anchor="start">RI Signal</text>
<text transform="translate(859 1474.5) scale(1 1.041)" font-size="105" text-anchor="start">Elution Time (min)</text>
<line x1="1682" y1="565.4" x2="1854" y2="565.4" stroke="#000000" stroke-width="5" />
<text transform="translate(1871.6 590.8) scale(1 1.041)" font-size="75" text-anchor="start">0.25 h</text>
<line x1="1682" y1="657.3" x2="1854" y2="657.3" stroke="#FF0000" stroke-width="5" />
<text transform="translate(1871.6 682.7) scale(1 1.041)" font-size="75" text-anchor="start">0.5 h</text>
<line x1="1682" y1="749.3" x2="1854" y2="749.3" stroke="#00FF00" stroke-width="5" />
<text transform="translate(1871.6 774.7) scale(1 1.041)" font-size="75" text-anchor="start">0.75 h</text>
<line x1="1682" y1="841.2" x2="1854" y2="841.2" stroke="#0000FF" stroke-width="5" />
<text transform="translate(1871.6 866.6) scale(1 1.041)" font-size="75" text-anchor="start">1 h</text>
<line x1="1682" y1="933.1" x2="1854" y2="933.1" stroke="#00FFFF" stroke-width="5" />
<text transform="translate(1871.6 958.5) scale(1 1.041)" font-size="75" text-anchor="start">2 h</text>
<line x1="1682" y1="1025" x2="1854" y2="1025" stroke="#FF00FF" stroke-width="5" />
<text transform="translate(1871.6 1050.5) scale(1 1.041)" font-size="75" text-anchor="start">4 h</text>
<line x1="1682" y1="1117" x2="1854" y2="1117" stroke="#FF8000" stroke-width="5" />
<text transform="translate(1871.6 1142.4) scale(1 1.041)" font-size="75" text-anchor="start">6 h</text>
<line x1="1682" y1="1208.9" x2="1854" y2="1208.9" stroke="#800080" stroke-width="5" />
<text transform="translate(1871.6 1234.3) scale(1 1.041)" font-size="75" text-anchor="start">8 h</text>
<line x1="1150" y1="1224" x2="1382" y2="1224" stroke="#555" stroke-width="2.5" />
<polygon points="1124,1224 1158,1215.5 1158,1232.5" fill="#000"/>
</g>
<g id="pb">
<rect x="558.5" y="1620.3" width="1601.0" height="1286.7" fill="none" stroke="#000" stroke-width="4.5"/>
<line x1="643" y1="2907" x2="643" y2="2932" stroke="#000" stroke-width="4.5" />
<line x1="643" y1="1620.3" x2="643" y2="1645.3" stroke="#000" stroke-width="4.5" />
<line x1="811.4" y1="2907" x2="811.4" y2="2932" stroke="#000" stroke-width="4.5" />
<line x1="811.4" y1="1620.3" x2="811.4" y2="1645.3" stroke="#000" stroke-width="4.5" />
<line x1="979.8" y1="2907" x2="979.8" y2="2932" stroke="#000" stroke-width="4.5" />
<line x1="979.8" y1="1620.3" x2="979.8" y2="1645.3" stroke="#000" stroke-width="4.5" />
<line x1="1148.2" y1="2907" x2="1148.2" y2="2932" stroke="#000" stroke-width="4.5" />
<line x1="1148.2" y1="1620.3" x2="1148.2" y2="1645.3" stroke="#000" stroke-width="4.5" />
<line x1="1316.6" y1="2907" x2="1316.6" y2="2932" stroke="#000" stroke-width="4.5" />
<line x1="1316.6" y1="1620.3" x2="1316.6" y2="1645.3" stroke="#000" stroke-width="4.5" />
<line x1="1485" y1="2907" x2="1485" y2="2932" stroke="#000" stroke-width="4.5" />
<line x1="1485" y1="1620.3" x2="1485" y2="1645.3" stroke="#000" stroke-width="4.5" />
<line x1="1653.4" y1="2907" x2="1653.4" y2="2932" stroke="#000" stroke-width="4.5" />
<line x1="1653.4" y1="1620.3" x2="1653.4" y2="1645.3" stroke="#000" stroke-width="4.5" />
<line x1="1821.8" y1="2907" x2="1821.8" y2="2932" stroke="#000" stroke-width="4.5" />
<line x1="1821.8" y1="1620.3" x2="1821.8" y2="1645.3" stroke="#000" stroke-width="4.5" />
<line x1="1990.2" y1="2907" x2="1990.2" y2="2932" stroke="#000" stroke-width="4.5" />
<line x1="1990.2" y1="1620.3" x2="1990.2" y2="1645.3" stroke="#000" stroke-width="4.5" />
<line x1="727.2" y1="2907" x2="727.2" y2="2919.5" stroke="#000" stroke-width="4.5" />
<line x1="727.2" y1="1620.3" x2="727.2" y2="1632.8" stroke="#000" stroke-width="4.5" />
<line x1="895.6" y1="2907" x2="895.6" y2="2919.5" stroke="#000" stroke-width="4.5" />
<line x1="895.6" y1="1620.3" x2="895.6" y2="1632.8" stroke="#000" stroke-width="4.5" />
<line x1="1064" y1="2907" x2="1064" y2="2919.5" stroke="#000" stroke-width="4.5" />
<line x1="1064" y1="1620.3" x2="1064" y2="1632.8" stroke="#000" stroke-width="4.5" />
<line x1="1232.4" y1="2907" x2="1232.4" y2="2919.5" stroke="#000" stroke-width="4.5" />
<line x1="1232.4" y1="1620.3" x2="1232.4" y2="1632.8" stroke="#000" stroke-width="4.5" />
<line x1="1400.8" y1="2907" x2="1400.8" y2="2919.5" stroke="#000" stroke-width="4.5" />
<line x1="1400.8" y1="1620.3" x2="1400.8" y2="1632.8" stroke="#000" stroke-width="4.5" />
<line x1="1569.2" y1="2907" x2="1569.2" y2="2919.5" stroke="#000" stroke-width="4.5" />
<line x1="1569.2" y1="1620.3" x2="1569.2" y2="1632.8" stroke="#000" stroke-width="4.5" />
<line x1="1737.6" y1="2907" x2="1737.6" y2="2919.5" stroke="#000" stroke-width="4.5" />
<line x1="1737.6" y1="1620.3" x2="1737.6" y2="1632.8" stroke="#000" stroke-width="4.5" />
<line x1="1906" y1="2907" x2="1906" y2="2919.5" stroke="#000" stroke-width="4.5" />
<line x1="1906" y1="1620.3" x2="1906" y2="1632.8" stroke="#000" stroke-width="4.5" />
<line x1="2074.4" y1="2907" x2="2074.4" y2="2919.5" stroke="#000" stroke-width="4.5" />
<line x1="2074.4" y1="1620.3" x2="2074.4" y2="1632.8" stroke="#000" stroke-width="4.5" />
<line x1="558.5" y1="2907" x2="558.5" y2="2919.5" stroke="#000" stroke-width="4.5" />
<line x1="2159.5" y1="2907" x2="2159.5" y2="2932" stroke="#000" stroke-width="4.5" />
<line x1="533.5" y1="2907" x2="558.5" y2="2907" stroke="#000" stroke-width="4.5" />
<line x1="533.5" y1="2709.1" x2="558.5" y2="2709.1" stroke="#000" stroke-width="4.5" />
<line x1="2134.5" y1="2709.1" x2="2159.5" y2="2709.1" stroke="#000" stroke-width="4.5" />
<line x1="533.5" y1="2511.2" x2="558.5" y2="2511.2" stroke="#000" stroke-width="4.5" />
<line x1="2134.5" y1="2511.2" x2="2159.5" y2="2511.2" stroke="#000" stroke-width="4.5" />
<line x1="533.5" y1="2313.3" x2="558.5" y2="2313.3" stroke="#000" stroke-width="4.5" />
<line x1="2134.5" y1="2313.3" x2="2159.5" y2="2313.3" stroke="#000" stroke-width="4.5" />
<line x1="533.5" y1="2115.4" x2="558.5" y2="2115.4" stroke="#000" stroke-width="4.5" />
<line x1="2134.5" y1="2115.4" x2="2159.5" y2="2115.4" stroke="#000" stroke-width="4.5" />
<line x1="533.5" y1="1917.5" x2="558.5" y2="1917.5" stroke="#000" stroke-width="4.5" />
<line x1="2134.5" y1="1917.5" x2="2159.5" y2="1917.5" stroke="#000" stroke-width="4.5" />
<line x1="533.5" y1="1719.6" x2="558.5" y2="1719.6" stroke="#000" stroke-width="4.5" />
<line x1="2134.5" y1="1719.6" x2="2159.5" y2="1719.6" stroke="#000" stroke-width="4.5" />
<line x1="546" y1="2808.1" x2="558.5" y2="2808.1" stroke="#000" stroke-width="4.5" />
<line x1="2147" y1="2808.1" x2="2159.5" y2="2808.1" stroke="#000" stroke-width="4.5" />
<line x1="546" y1="2610.2" x2="558.5" y2="2610.2" stroke="#000" stroke-width="4.5" />
<line x1="2147" y1="2610.2" x2="2159.5" y2="2610.2" stroke="#000" stroke-width="4.5" />
<line x1="546" y1="2412.2" x2="558.5" y2="2412.2" stroke="#000" stroke-width="4.5" />
<line x1="2147" y1="2412.2" x2="2159.5" y2="2412.2" stroke="#000" stroke-width="4.5" />
<line x1="546" y1="2214.3" x2="558.5" y2="2214.3" stroke="#000" stroke-width="4.5" />
<line x1="2147" y1="2214.3" x2="2159.5" y2="2214.3" stroke="#000" stroke-width="4.5" />
<line x1="546" y1="2016.4" x2="558.5" y2="2016.4" stroke="#000" stroke-width="4.5" />
<line x1="2147" y1="2016.4" x2="2159.5" y2="2016.4" stroke="#000" stroke-width="4.5" />
<line x1="546" y1="1818.5" x2="558.5" y2="1818.5" stroke="#000" stroke-width="4.5" />
<line x1="2147" y1="1818.5" x2="2159.5" y2="1818.5" stroke="#000" stroke-width="4.5" />
<line x1="546" y1="1620.3" x2="558.5" y2="1620.3" stroke="#000" stroke-width="4.5" />
<text transform="translate(643 3011) scale(1 1.041)" font-size="80" text-anchor="middle">0</text>
<text transform="translate(811.4 3011) scale(1 1.041)" font-size="80" text-anchor="middle">1</text>
<text transform="translate(979.8 3011) scale(1 1.041)" font-size="80" text-anchor="middle">2</text>
<text transform="translate(1148.2 3011) scale(1 1.041)" font-size="80" text-anchor="middle">3</text>
<text transform="translate(1316.6 3011) scale(1 1.041)" font-size="80" text-anchor="middle">4</text>
<text transform="translate(1485 3011) scale(1 1.041)" font-size="80" text-anchor="middle">5</text>
<text transform="translate(1653.4 3011) scale(1 1.041)" font-size="80" text-anchor="middle">6</text>
<text transform="translate(1821.8 3011) scale(1 1.041)" font-size="80" text-anchor="middle">7</text>
<text transform="translate(1990.2 3011) scale(1 1.041)" font-size="80" text-anchor="middle">8</text>
<text transform="translate(2158.6 3011) scale(1 1.041)" font-size="80" text-anchor="middle">9</text>
<text transform="translate(515 2930) scale(1 1.041)" font-size="80" text-anchor="end">0.10</text>
<text transform="translate(515 2732.1) scale(1 1.041)" font-size="80" text-anchor="end">0.15</text>
<text transform="translate(515 2534.2) scale(1 1.041)" font-size="80" text-anchor="end">0.20</text>
<text transform="translate(515 2336.3) scale(1 1.041)" font-size="80" text-anchor="end">0.25</text>
<text transform="translate(515 2138.4) scale(1 1.041)" font-size="80" text-anchor="end">0.30</text>
<text transform="translate(515 1940.5) scale(1 1.041)" font-size="80" text-anchor="end">0.35</text>
<text transform="translate(515 1742.6) scale(1 1.041)" font-size="80" text-anchor="end">0.40</text>
<text transform="translate(243 1748.5) scale(1 1.041)" font-size="105" text-anchor="start">b)</text>
<rect x="666.1" y="2778.3" width="36.5" height="36.5" fill="#000"/>
<rect x="708.5" y="2732.6" width="36.5" height="36.5" fill="#000"/>
<rect x="751" y="2641.1" width="36.5" height="36.5" fill="#000"/>
<rect x="792.5" y="2498.9" width="36.5" height="36.5" fill="#000"/>
<rect x="961" y="2249.6" width="36.5" height="36.5" fill="#000"/>
<rect x="1297.5" y="2037.9" width="36.5" height="36.5" fill="#000"/>
<rect x="1635" y="1872.2" width="36.5" height="36.5" fill="#000"/>
<rect x="1972.2" y="1698.7" width="36.5" height="36.5" fill="#000"/>
<text transform="translate(323.1 2479.3) rotate(-90) scale(1 1.041)" font-size="110" text-anchor="start">ln(Mo/M)</text>
<text transform="translate(798 3167.2) scale(1 1.041)" font-size="110" text-anchor="start">Polymerization time (h)</text>
</g>
<g id="pc">
<rect x="476.5" y="3362.3" width="1572.5" height="1267.6999999999998" fill="none" stroke="#000" stroke-width="4.5"/>
<line x1="607.5" y1="4630" x2="607.5" y2="4654" stroke="#000" stroke-width="4.5" />
<line x1="869.7" y1="4630" x2="869.7" y2="4654" stroke="#000" stroke-width="4.5" />
<line x1="1131.8" y1="4630" x2="1131.8" y2="4654" stroke="#000" stroke-width="4.5" />
<line x1="1393.8" y1="4630" x2="1393.8" y2="4654" stroke="#000" stroke-width="4.5" />
<line x1="1656" y1="4630" x2="1656" y2="4654" stroke="#000" stroke-width="4.5" />
<line x1="1918" y1="4630" x2="1918" y2="4654" stroke="#000" stroke-width="4.5" />
<line x1="476.5" y1="4630" x2="476.5" y2="4642" stroke="#000" stroke-width="4.5" />
<line x1="738.6" y1="4630" x2="738.6" y2="4642" stroke="#000" stroke-width="4.5" />
<line x1="1000.7" y1="4630" x2="1000.7" y2="4642" stroke="#000" stroke-width="4.5" />
<line x1="1262.8" y1="4630" x2="1262.8" y2="4642" stroke="#000" stroke-width="4.5" />
<line x1="1524.9" y1="4630" x2="1524.9" y2="4642" stroke="#000" stroke-width="4.5" />
<line x1="1787" y1="4630" x2="1787" y2="4642" stroke="#000" stroke-width="4.5" />
<line x1="2049.1" y1="4630" x2="2049.1" y2="4642" stroke="#000" stroke-width="4.5" />
<line x1="607.5" y1="3362.3" x2="607.5" y2="3386.3" stroke="#000" stroke-width="4.5" />
<line x1="1131.8" y1="3362.3" x2="1131.8" y2="3386.3" stroke="#000" stroke-width="4.5" />
<line x1="1656" y1="3362.3" x2="1656" y2="3386.3" stroke="#000" stroke-width="4.5" />
<line x1="869.7" y1="3362.3" x2="869.7" y2="3374.3" stroke="#000" stroke-width="4.5" />
<line x1="1393.8" y1="3362.3" x2="1393.8" y2="3374.3" stroke="#000" stroke-width="4.5" />
<line x1="1918" y1="3362.3" x2="1918" y2="3374.3" stroke="#000" stroke-width="4.5" />
<line x1="451.5" y1="4630" x2="476.5" y2="4630" stroke="#000" stroke-width="4.5" />
<line x1="451.5" y1="4448.9" x2="476.5" y2="4448.9" stroke="#000" stroke-width="4.5" />
<line x1="451.5" y1="4267.8" x2="476.5" y2="4267.8" stroke="#000" stroke-width="4.5" />
<line x1="451.5" y1="4086.7" x2="476.5" y2="4086.7" stroke="#000" stroke-width="4.5" />
<line x1="451.5" y1="3905.6" x2="476.5" y2="3905.6" stroke="#000" stroke-width="4.5" />
<line x1="451.5" y1="3724.5" x2="476.5" y2="3724.5" stroke="#000" stroke-width="4.5" />
<line x1="451.5" y1="3543.4" x2="476.5" y2="3543.4" stroke="#000" stroke-width="4.5" />
<line x1="451.5" y1="3362.3" x2="476.5" y2="3362.3" stroke="#000" stroke-width="4.5" />
<line x1="464" y1="4539.4" x2="476.5" y2="4539.4" stroke="#000" stroke-width="4.5" />
<line x1="464" y1="4358.4" x2="476.5" y2="4358.4" stroke="#000" stroke-width="4.5" />
<line x1="464" y1="4177.2" x2="476.5" y2="4177.2" stroke="#000" stroke-width="4.5" />
<line x1="464" y1="3996.2" x2="476.5" y2="3996.2" stroke="#000" stroke-width="4.5" />
<line x1="464" y1="3815.1" x2="476.5" y2="3815.1" stroke="#000" stroke-width="4.5" />
<line x1="464" y1="3633.9" x2="476.5" y2="3633.9" stroke="#000" stroke-width="4.5" />
<line x1="464" y1="3452.8" x2="476.5" y2="3452.8" stroke="#000" stroke-width="4.5" />
<line x1="2025" y1="4313.1" x2="2049" y2="4313.1" stroke="#000" stroke-width="4.5" />
<line x1="2025" y1="3996.1" x2="2049" y2="3996.1" stroke="#000" stroke-width="4.5" />
<line x1="2025" y1="3679.2" x2="2049" y2="3679.2" stroke="#000" stroke-width="4.5" />
<line x1="2037" y1="4471.5" x2="2049" y2="4471.5" stroke="#000" stroke-width="4.5" />
<line x1="2037" y1="4154.6" x2="2049" y2="4154.6" stroke="#000" stroke-width="4.5" />
<line x1="2037" y1="3837.7" x2="2049" y2="3837.7" stroke="#000" stroke-width="4.5" />
<line x1="2037" y1="3520.8" x2="2049" y2="3520.8" stroke="#000" stroke-width="4.5" />
<text transform="translate(607.5 4734) scale(1 1.041)" font-size="80" text-anchor="middle">10</text>
<text transform="translate(869.7 4734) scale(1 1.041)" font-size="80" text-anchor="middle">15</text>
<text transform="translate(1131.8 4734) scale(1 1.041)" font-size="80" text-anchor="middle">20</text>
<text transform="translate(1393.8 4734) scale(1 1.041)" font-size="80" text-anchor="middle">25</text>
<text transform="translate(1656 4734) scale(1 1.041)" font-size="80" text-anchor="middle">30</text>
<text transform="translate(1918 4734) scale(1 1.041)" font-size="80" text-anchor="middle">35</text>
<text transform="translate(435.1 4654) scale(1 1.041)" font-size="80" text-anchor="end">6,000</text>
<text transform="translate(435.1 4472.9) scale(1 1.041)" font-size="80" text-anchor="end">7,000</text>
<text transform="translate(435.1 4291.8) scale(1 1.041)" font-size="80" text-anchor="end">8,000</text>
<text transform="translate(435.1 4110.7) scale(1 1.041)" font-size="80" text-anchor="end">9,000</text>
<text transform="translate(435.1 3929.6) scale(1 1.041)" font-size="80" text-anchor="end">10,000</text>
<text transform="translate(435.1 3748.5) scale(1 1.041)" font-size="80" text-anchor="end">11,000</text>
<text transform="translate(435.1 3567.4) scale(1 1.041)" font-size="80" text-anchor="end">12,000</text>
<text transform="translate(435.1 3386.3) scale(1 1.041)" font-size="80" text-anchor="end">13,000</text>
<text transform="translate(2075 4654.5) scale(1 1.041)" font-size="80" text-anchor="start">1.30</text>
<text transform="translate(2075 4337.6) scale(1 1.041)" font-size="80" text-anchor="start">1.35</text>
<text transform="translate(2075 4020.6) scale(1 1.041)" font-size="80" text-anchor="start">1.40</text>
<text transform="translate(2075 3703.7) scale(1 1.041)" font-size="80" text-anchor="start">1.45</text>
<text transform="translate(2075 3386.8) scale(1 1.041)" font-size="80" text-anchor="start">1.50</text>
<text transform="translate(68 3412) scale(1 1.041)" font-size="105" text-anchor="start">c)</text>
<rect x="694.1" y="4521.2" width="36.5" height="36.5" fill="#FF0000"/>
<rect x="746.6" y="4466.9" width="36.5" height="36.5" fill="#FF0000"/>
<rect x="851.4" y="4299.4" width="36.5" height="36.5" fill="#FF0000"/>
<rect x="1008.7" y="4131.8" width="36.5" height="36.5" fill="#FF0000"/>
<rect x="1270.8" y="3824.9" width="36.5" height="36.5" fill="#FF0000"/>
<rect x="1480.4" y="3697.2" width="36.5" height="36.5" fill="#FF0000"/>
<rect x="1637.7" y="3615.7" width="36.5" height="36.5" fill="#FF0000"/>
<rect x="1795" y="3489.8" width="36.5" height="36.5" fill="#FF0000"/>
<circle cx="712.4" cy="4503.2" r="20.2" fill="#0000FF"/>
<circle cx="764.8" cy="4439.8" r="20.2" fill="#0000FF"/>
<circle cx="869.7" cy="4503.2" r="20.2" fill="#0000FF"/>
<circle cx="1026.9" cy="4376.5" r="20.2" fill="#0000FF"/>
<circle cx="1289" cy="4313.1" r="20.2" fill="#0000FF"/>
<circle cx="1498.7" cy="4249.7" r="20.2" fill="#0000FF"/>
<circle cx="1656" cy="4059.5" r="20.2" fill="#0000FF"/>
<circle cx="1813.2" cy="3552.5" r="20.2" fill="#0000FF"/>
<line x1="545" y1="3843" x2="1188" y2="3843" stroke="#555" stroke-width="2.5" />
<polygon points="512,3843 546,3834.5 546,3851.5" fill="#000"/>
<line x1="1714" y1="4057.4" x2="2000" y2="4057.4" stroke="#555" stroke-width="2.5" />
<polygon points="2031,4057.4 1997,4048.9 1997,4065.9" fill="#000"/>
<text transform="translate(138.4 4240) rotate(-90) scale(1 1.041)" font-size="109" text-anchor="start">M</text>
<text transform="translate(168 4150) rotate(-90) scale(1 1.041)" font-size="73" text-anchor="start">n</text>
<text transform="translate(138.4 4090) rotate(-90) scale(1 1.041)" font-size="109" text-anchor="start">(g/mol)</text>
<text transform="translate(2264 3955) rotate(90) scale(1 1.041)" font-size="110" text-anchor="start">&#272;</text>
<text transform="translate(891.6 4885.5) scale(1 1.041)" font-size="108" text-anchor="start">Conversion (%)</text>
</g>
</svg></body></html>
